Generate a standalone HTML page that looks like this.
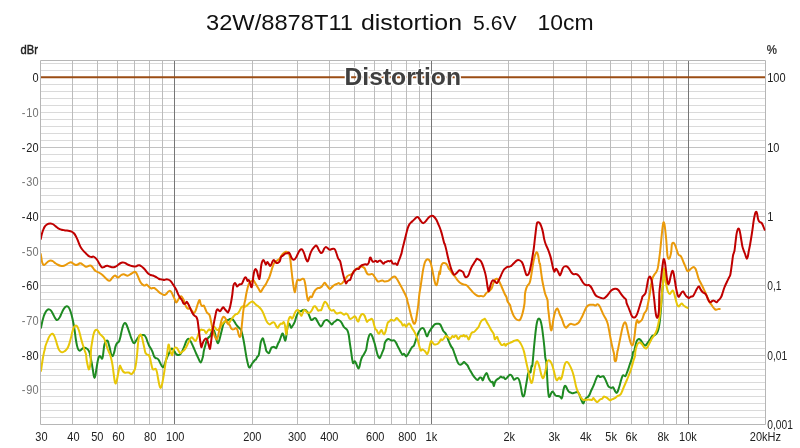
<!DOCTYPE html>
<html><head><meta charset="utf-8"><title>chart</title>
<style>
html,body{margin:0;padding:0;background:#fff;}
body{width:800px;height:448px;position:relative;overflow:hidden;font-family:"Liberation Sans",sans-serif;}
</style></head><body>
<svg width="800" height="448" viewBox="0 0 800 448" style="position:absolute;left:0;top:0" font-family="Liberation Sans, sans-serif">
<rect x="0" y="0" width="800" height="448" fill="#fff"/>
<path d="M40.5 63.5H765.5M40.5 70.5H765.5M40.5 84.5H765.5M40.5 91.5H765.5M40.5 98.5H765.5M40.5 105.5H765.5M40.5 112.5H765.5M40.5 119.5H765.5M40.5 126.5H765.5M40.5 133.5H765.5M40.5 140.5H765.5M40.5 154.5H765.5M40.5 161.5H765.5M40.5 167.5H765.5M40.5 174.5H765.5M40.5 181.5H765.5M40.5 188.5H765.5M40.5 195.5H765.5M40.5 202.5H765.5M40.5 209.5H765.5M40.5 223.5H765.5M40.5 230.5H765.5M40.5 237.5H765.5M40.5 244.5H765.5M40.5 251.5H765.5M40.5 258.5H765.5M40.5 265.5H765.5M40.5 271.5H765.5M40.5 278.5H765.5M40.5 292.5H765.5M40.5 299.5H765.5M40.5 306.5H765.5M40.5 313.5H765.5M40.5 320.5H765.5M40.5 327.5H765.5M40.5 334.5H765.5M40.5 341.5H765.5M40.5 348.5H765.5M40.5 362.5H765.5M40.5 369.5H765.5M40.5 375.5H765.5M40.5 382.5H765.5M40.5 389.5H765.5M40.5 396.5H765.5M40.5 403.5H765.5M40.5 410.5H765.5M40.5 417.5H765.5" stroke="#dadada" stroke-width="1" fill="none"/>
<path d="M40.5 77.5H765.5M40.5 147.5H765.5M40.5 216.5H765.5M40.5 285.5H765.5M40.5 355.5H765.5" stroke="#c2c2c2" stroke-width="1" fill="none"/>
<path d="M72.5 60.5V424.5M97.5 60.5V424.5M117.5 60.5V424.5M134.5 60.5V424.5M149.5 60.5V424.5M162.5 60.5V424.5M252.5 60.5V424.5M297.5 60.5V424.5M329.5 60.5V424.5M354.5 60.5V424.5M374.5 60.5V424.5M391.5 60.5V424.5M406.5 60.5V424.5M419.5 60.5V424.5M508.5 60.5V424.5M553.5 60.5V424.5M586.5 60.5V424.5M610.5 60.5V424.5M631.5 60.5V424.5M648.5 60.5V424.5M663.5 60.5V424.5M676.5 60.5V424.5" stroke="#bcbcbc" stroke-width="1" fill="none"/>
<path d="M174.5 60.5V424.5M431.5 60.5V424.5M688.5 60.5V424.5" stroke="#767676" stroke-width="1" fill="none"/>
<path d="M40.5 60.5H765.5V424.5H40.5Z" stroke="#b6b6b6" stroke-width="1" fill="none"/>
<path d="M41 77.25H765" stroke="#9b4d14" stroke-width="2.2" fill="none"/>
<clipPath id="c"><rect x="41" y="61" width="724.5" height="363"/></clipPath>
<g clip-path="url(#c)" fill="none" stroke-width="2" stroke-linejoin="round" stroke-linecap="round">
<path d="M40.50 327.50C40.58 327.50 40.71 328.44 41.00 327.50C41.29 326.56 41.79 323.75 42.25 321.88C42.71 320.00 43.23 317.81 43.75 316.25C44.27 314.69 44.79 313.54 45.38 312.50C45.96 311.46 46.62 310.52 47.25 310.00C47.88 309.48 48.50 309.27 49.12 309.38C49.75 309.48 50.38 309.90 51.00 310.62C51.62 311.35 52.25 312.60 52.88 313.75C53.50 314.90 54.12 316.46 54.75 317.50C55.38 318.54 56.04 319.69 56.62 320.00C57.21 320.31 57.69 319.90 58.25 319.38C58.81 318.85 59.44 317.92 60.00 316.88C60.56 315.83 61.08 314.31 61.62 313.12C62.17 311.94 62.69 310.73 63.25 309.75C63.81 308.77 64.44 307.83 65.00 307.25C65.56 306.67 66.08 306.31 66.62 306.25C67.17 306.19 67.73 306.35 68.25 306.88C68.77 307.40 69.25 308.23 69.75 309.38C70.25 310.52 70.79 312.19 71.25 313.75C71.71 315.31 72.08 316.88 72.50 318.75C72.92 320.62 73.38 322.92 73.75 325.00C74.12 327.08 74.42 328.96 74.75 331.25C75.08 333.54 75.38 336.35 75.75 338.75C76.12 341.15 76.58 343.85 77.00 345.62C77.42 347.40 77.83 348.54 78.25 349.38C78.67 350.21 79.04 350.52 79.50 350.62C79.96 350.73 80.44 350.42 81.00 350.00C81.56 349.58 82.25 348.50 82.88 348.12C83.50 347.75 84.12 347.69 84.75 347.75C85.38 347.81 86.04 348.12 86.62 348.50C87.21 348.88 87.73 349.23 88.25 350.00C88.77 350.77 89.40 352.08 89.75 353.12C90.10 354.17 90.06 354.69 90.38 356.25C90.69 357.81 91.21 360.21 91.62 362.50C92.04 364.79 92.52 367.81 92.88 370.00C93.23 372.19 93.48 374.27 93.75 375.62C94.02 376.98 94.23 378.12 94.50 378.12C94.77 378.12 95.08 376.98 95.38 375.62C95.67 374.27 95.94 371.98 96.25 370.00C96.56 368.02 96.92 365.62 97.25 363.75C97.58 361.88 97.88 360.04 98.25 358.75C98.62 357.46 99.08 356.31 99.50 356.00C99.92 355.69 100.33 356.42 100.75 356.88C101.17 357.33 101.65 358.85 102.00 358.75C102.35 358.65 102.52 358.33 102.88 356.25C103.23 354.17 103.71 348.65 104.12 346.25C104.54 343.85 104.96 342.81 105.38 341.88C105.79 340.94 106.21 340.73 106.62 340.62C107.04 340.52 107.46 340.42 107.88 341.25C108.29 342.08 108.71 344.06 109.12 345.62C109.54 347.19 110.06 349.27 110.38 350.62C110.69 351.98 110.65 352.81 111.00 353.75C111.35 354.69 112.04 356.25 112.50 356.25C112.96 356.25 113.38 354.79 113.75 353.75C114.12 352.71 114.48 351.15 114.75 350.00C115.02 348.85 115.06 347.92 115.38 346.88C115.69 345.83 116.21 344.48 116.62 343.75C117.04 343.02 117.46 342.92 117.88 342.50C118.29 342.08 118.71 342.19 119.12 341.25C119.54 340.31 119.96 338.54 120.38 336.88C120.79 335.21 121.21 333.02 121.62 331.25C122.04 329.48 122.46 327.54 122.88 326.25C123.29 324.96 123.71 324.02 124.12 323.50C124.54 322.98 124.96 322.88 125.38 323.12C125.79 323.38 126.15 323.96 126.62 325.00C127.10 326.04 127.73 327.92 128.25 329.38C128.77 330.83 129.25 332.29 129.75 333.75C130.25 335.21 130.73 336.77 131.25 338.12C131.77 339.48 132.40 341.04 132.88 341.88C133.35 342.71 133.77 343.02 134.12 343.12C134.48 343.23 134.60 343.02 135.00 342.50C135.40 341.98 135.98 340.83 136.50 340.00C137.02 339.17 137.58 338.23 138.12 337.50C138.67 336.77 139.23 336.04 139.75 335.62C140.27 335.21 140.69 335.10 141.25 335.00C141.81 334.90 142.54 334.90 143.12 335.00C143.71 335.10 144.23 335.10 144.75 335.62C145.27 336.15 145.75 336.98 146.25 338.12C146.75 339.27 147.23 341.15 147.75 342.50C148.27 343.85 148.83 345.21 149.38 346.25C149.92 347.29 150.48 347.81 151.00 348.75C151.52 349.69 152.00 350.62 152.50 351.88C153.00 353.12 153.48 355.21 154.00 356.25C154.52 357.29 155.08 357.75 155.62 358.12C156.17 358.50 156.73 358.19 157.25 358.50C157.77 358.81 158.25 359.23 158.75 360.00C159.25 360.77 159.73 362.08 160.25 363.12C160.77 364.17 161.40 365.56 161.88 366.25C162.35 366.94 162.71 367.46 163.12 367.25C163.54 367.04 163.96 366.00 164.38 365.00C164.79 364.00 165.10 362.71 165.62 361.25C166.15 359.79 166.88 357.71 167.50 356.25C168.12 354.79 168.75 353.75 169.38 352.50C170.00 351.25 170.62 349.27 171.25 348.75C171.88 348.23 172.54 348.85 173.12 349.38C173.71 349.90 174.19 351.04 174.75 351.88C175.31 352.71 175.83 353.85 176.50 354.38C177.17 354.90 178.06 355.10 178.75 355.00C179.44 354.90 180.00 354.48 180.62 353.75C181.25 353.02 181.88 351.88 182.50 350.62C183.12 349.38 183.75 347.81 184.38 346.25C185.00 344.69 185.69 342.46 186.25 341.25C186.81 340.04 187.23 339.31 187.75 339.00C188.27 338.69 188.83 338.90 189.38 339.38C189.92 339.85 190.44 340.83 191.00 341.88C191.56 342.92 192.19 344.38 192.75 345.62C193.31 346.88 193.79 348.02 194.38 349.38C194.96 350.73 195.65 352.40 196.25 353.75C196.85 355.10 197.25 356.04 198.00 357.50C198.75 358.96 199.92 362.71 200.75 362.50C201.58 362.29 202.50 358.12 203.00 356.25C203.50 354.38 203.38 353.02 203.75 351.25C204.12 349.48 204.73 347.50 205.25 345.62C205.77 343.75 206.33 341.35 206.88 340.00C207.42 338.65 207.98 338.12 208.50 337.50C209.02 336.88 209.50 337.08 210.00 336.25C210.50 335.42 210.98 333.54 211.50 332.50C212.02 331.46 212.65 330.21 213.12 330.00C213.60 329.79 213.96 330.21 214.38 331.25C214.79 332.29 215.21 334.58 215.62 336.25C216.04 337.92 216.46 340.10 216.88 341.25C217.29 342.40 217.71 343.33 218.12 343.12C218.54 342.92 218.96 341.35 219.38 340.00C219.79 338.65 220.21 336.67 220.62 335.00C221.04 333.33 221.46 331.67 221.88 330.00C222.29 328.33 222.65 326.35 223.12 325.00C223.60 323.65 224.23 322.60 224.75 321.88C225.27 321.15 225.69 320.94 226.25 320.62C226.81 320.31 227.50 320.27 228.12 320.00C228.75 319.73 229.38 319.21 230.00 319.00C230.62 318.79 231.25 318.48 231.88 318.75C232.50 319.02 233.12 319.79 233.75 320.62C234.38 321.46 235.00 322.81 235.62 323.75C236.25 324.69 236.88 325.52 237.50 326.25C238.12 326.98 238.75 327.40 239.38 328.12C240.00 328.85 240.69 329.27 241.25 330.62C241.81 331.98 242.29 334.27 242.75 336.25C243.21 338.23 243.58 340.21 244.00 342.50C244.42 344.79 244.75 347.08 245.25 350.00C245.75 352.92 246.33 357.08 247.00 360.00C247.67 362.92 248.42 366.88 249.25 367.50C250.08 368.12 251.04 365.00 252.00 363.75C252.96 362.50 254.33 360.73 255.00 360.00C255.67 359.27 255.62 359.90 256.00 359.38C256.38 358.85 256.79 357.60 257.25 356.88C257.71 356.15 258.29 356.56 258.75 355.00C259.21 353.44 259.67 349.58 260.00 347.50C260.33 345.42 260.38 343.96 260.75 342.50C261.12 341.04 261.83 339.33 262.25 338.75C262.67 338.17 262.88 338.17 263.25 339.00C263.62 339.83 264.21 342.75 264.50 343.75C264.79 344.75 264.71 343.85 265.00 345.00C265.29 346.15 265.77 349.38 266.25 350.62C266.73 351.88 267.40 352.08 267.88 352.50C268.35 352.92 268.71 353.54 269.12 353.12C269.54 352.71 269.96 350.94 270.38 350.00C270.79 349.06 271.15 348.02 271.62 347.50C272.10 346.98 272.73 346.92 273.25 346.88C273.77 346.83 274.25 347.04 274.75 347.25C275.25 347.46 275.79 348.50 276.25 348.12C276.71 347.75 277.08 345.98 277.50 345.00C277.92 344.02 278.48 342.77 278.75 342.25C279.02 341.73 278.79 342.67 279.12 341.88C279.46 341.08 280.23 338.85 280.75 337.50C281.27 336.15 281.83 334.27 282.25 333.75C282.67 333.23 282.92 333.65 283.25 334.38C283.58 335.10 283.90 337.08 284.25 338.12C284.60 339.17 285.04 340.94 285.38 340.62C285.71 340.31 285.94 338.23 286.25 336.25C286.56 334.27 286.88 330.83 287.25 328.75C287.62 326.67 288.08 324.48 288.50 323.75C288.92 323.02 289.33 323.71 289.75 324.38C290.17 325.04 290.58 327.44 291.00 327.75C291.42 328.06 291.83 326.81 292.25 326.25C292.67 325.69 293.04 325.21 293.50 324.38C293.96 323.54 294.54 322.50 295.00 321.25C295.46 320.00 295.77 318.23 296.25 316.88C296.73 315.52 297.33 314.10 297.88 313.12C298.42 312.15 298.98 311.31 299.50 311.00C300.02 310.69 300.50 311.38 301.00 311.25C301.50 311.12 301.98 310.50 302.50 310.25C303.02 310.00 303.58 309.79 304.12 309.75C304.67 309.71 305.23 309.65 305.75 310.00C306.27 310.35 306.75 311.15 307.25 311.88C307.75 312.60 308.29 313.44 308.75 314.38C309.21 315.31 309.58 316.56 310.00 317.50C310.42 318.44 310.77 319.69 311.25 320.00C311.73 320.31 312.33 319.69 312.88 319.38C313.42 319.06 313.98 318.23 314.50 318.12C315.02 318.02 315.50 318.19 316.00 318.75C316.50 319.31 316.98 320.56 317.50 321.50C318.02 322.44 318.58 323.54 319.12 324.38C319.67 325.21 320.23 326.40 320.75 326.50C321.27 326.60 321.75 325.77 322.25 325.00C322.75 324.23 323.23 322.67 323.75 321.88C324.27 321.08 324.83 320.56 325.38 320.25C325.92 319.94 326.44 319.83 327.00 320.00C327.56 320.17 328.19 320.73 328.75 321.25C329.31 321.77 329.83 322.60 330.38 323.12C330.92 323.65 331.48 324.48 332.00 324.38C332.52 324.27 332.94 323.02 333.50 322.50C334.06 321.98 334.75 321.71 335.38 321.25C336.00 320.79 336.62 319.92 337.25 319.75C337.88 319.58 338.50 319.90 339.12 320.25C339.75 320.60 340.44 321.19 341.00 321.88C341.56 322.56 341.98 323.48 342.50 324.38C343.02 325.27 343.54 326.52 344.12 327.25C344.71 327.98 345.44 328.19 346.00 328.75C346.56 329.31 347.04 329.58 347.50 330.62C347.96 331.67 348.38 333.02 348.75 335.00C349.12 336.98 349.46 340.42 349.75 342.50C350.04 344.58 350.25 345.83 350.50 347.50C350.75 349.17 350.98 350.62 351.25 352.50C351.52 354.38 351.83 356.98 352.12 358.75C352.42 360.52 352.69 362.54 353.00 363.12C353.31 363.71 353.67 362.56 354.00 362.25C354.33 361.94 354.62 361.00 355.00 361.25C355.38 361.50 355.83 362.81 356.25 363.75C356.67 364.69 357.08 366.08 357.50 366.88C357.92 367.67 358.38 368.71 358.75 368.50C359.12 368.29 359.44 366.83 359.75 365.62C360.06 364.42 360.27 362.60 360.62 361.25C360.98 359.90 361.40 358.54 361.88 357.50C362.35 356.46 362.98 355.88 363.50 355.00C364.02 354.12 364.54 353.19 365.00 352.25C365.46 351.31 365.83 351.10 366.25 349.38C366.67 347.65 367.02 344.17 367.50 341.88C367.98 339.58 368.58 336.94 369.12 335.62C369.67 334.31 370.23 333.90 370.75 334.00C371.27 334.10 371.75 335.15 372.25 336.25C372.75 337.35 373.33 339.38 373.75 340.62C374.17 341.88 374.38 342.40 374.75 343.75C375.12 345.10 375.58 347.08 376.00 348.75C376.42 350.42 376.83 352.40 377.25 353.75C377.67 355.10 378.08 356.15 378.50 356.88C378.92 357.60 379.33 358.33 379.75 358.12C380.17 357.92 380.54 356.67 381.00 355.62C381.46 354.58 382.00 353.12 382.50 351.88C383.00 350.62 383.62 349.58 384.00 348.12C384.38 346.67 384.31 344.48 384.75 343.12C385.19 341.77 386.00 340.69 386.62 340.00C387.25 339.31 387.88 339.00 388.50 339.00C389.12 339.00 389.75 339.73 390.38 340.00C391.00 340.27 391.62 340.58 392.25 340.62C392.88 340.67 393.46 339.83 394.12 340.25C394.79 340.67 395.65 342.12 396.25 343.12C396.85 344.12 397.23 345.21 397.75 346.25C398.27 347.29 398.83 348.33 399.38 349.38C399.92 350.42 400.48 351.60 401.00 352.50C401.52 353.40 402.04 354.54 402.50 354.75C402.96 354.96 403.33 353.71 403.75 353.75C404.17 353.79 404.58 354.54 405.00 355.00C405.42 355.46 405.83 356.50 406.25 356.50C406.67 356.50 407.04 355.67 407.50 355.00C407.96 354.33 408.48 353.44 409.00 352.50C409.52 351.56 410.08 350.31 410.62 349.38C411.17 348.44 411.73 347.44 412.25 346.88C412.77 346.31 413.29 346.73 413.75 346.00C414.21 345.27 414.58 343.71 415.00 342.50C415.42 341.29 415.83 340.00 416.25 338.75C416.67 337.50 417.08 336.15 417.50 335.00C417.92 333.85 418.27 332.81 418.75 331.88C419.23 330.94 419.83 330.00 420.38 329.38C420.92 328.75 421.48 328.27 422.00 328.12C422.52 327.98 423.04 328.08 423.50 328.50C423.96 328.92 424.33 329.65 424.75 330.62C425.17 331.60 425.58 333.44 426.00 334.38C426.42 335.31 426.83 336.46 427.25 336.25C427.67 336.04 428.04 334.06 428.50 333.12C428.96 332.19 429.48 331.46 430.00 330.62C430.52 329.79 431.08 328.90 431.62 328.12C432.17 327.35 432.73 326.62 433.25 326.00C433.77 325.38 434.19 324.75 434.75 324.38C435.31 324.00 436.00 323.85 436.62 323.75C437.25 323.65 437.88 323.58 438.50 323.75C439.12 323.92 439.79 324.02 440.38 324.75C440.96 325.48 441.48 327.04 442.00 328.12C442.52 329.21 442.94 330.42 443.50 331.25C444.06 332.08 444.79 332.29 445.38 333.12C445.96 333.96 446.48 335.00 447.00 336.25C447.52 337.50 448.00 339.31 448.50 340.62C449.00 341.94 449.54 343.12 450.00 344.12C450.46 345.12 450.79 345.85 451.25 346.62C451.71 347.40 452.29 347.81 452.75 348.75C453.21 349.69 453.52 350.94 454.00 352.25C454.48 353.56 455.15 355.27 455.62 356.62C456.10 357.98 456.40 359.19 456.88 360.38C457.35 361.56 457.94 363.02 458.50 363.75C459.06 364.48 459.62 364.75 460.25 364.75C460.88 364.75 461.62 364.21 462.25 363.75C462.88 363.29 463.44 362.04 464.00 362.00C464.56 361.96 465.04 362.94 465.62 363.50C466.21 364.06 466.88 364.44 467.50 365.38C468.12 366.31 468.75 367.98 469.38 369.12C470.00 370.27 470.62 371.21 471.25 372.25C471.88 373.29 472.50 374.44 473.12 375.38C473.75 376.31 474.44 377.19 475.00 377.88C475.56 378.56 476.04 379.15 476.50 379.50C476.96 379.85 477.33 380.17 477.75 380.00C478.17 379.83 478.58 378.92 479.00 378.50C479.42 378.08 479.83 377.60 480.25 377.50C480.67 377.40 481.08 377.40 481.50 377.88C481.92 378.35 482.33 380.48 482.75 380.38C483.17 380.27 483.58 378.19 484.00 377.25C484.42 376.31 484.83 375.48 485.25 374.75C485.67 374.02 486.12 372.88 486.50 372.88C486.88 372.88 487.12 373.81 487.50 374.75C487.88 375.69 488.29 377.46 488.75 378.50C489.21 379.54 489.79 380.38 490.25 381.00C490.71 381.62 491.08 382.08 491.50 382.25C491.92 382.42 492.38 381.38 492.75 382.00C493.12 382.62 493.42 385.85 493.75 386.00C494.08 386.15 494.38 383.81 494.75 382.88C495.12 381.94 495.54 381.00 496.00 380.38C496.46 379.75 497.00 379.48 497.50 379.12C498.00 378.77 498.48 378.67 499.00 378.25C499.52 377.83 500.08 376.75 500.62 376.62C501.17 376.50 501.73 377.40 502.25 377.50C502.77 377.60 503.25 376.98 503.75 377.25C504.25 377.52 504.73 379.02 505.25 379.12C505.77 379.23 506.33 378.40 506.88 377.88C507.42 377.35 507.98 376.52 508.50 376.00C509.02 375.48 509.50 374.85 510.00 374.75C510.50 374.65 511.04 374.92 511.50 375.38C511.96 375.83 512.33 376.77 512.75 377.50C513.17 378.23 513.52 379.54 514.00 379.75C514.48 379.96 515.08 379.06 515.62 378.75C516.17 378.44 516.73 377.81 517.25 377.88C517.77 377.94 518.29 378.29 518.75 379.12C519.21 379.96 519.58 381.21 520.00 382.88C520.42 384.54 520.88 387.15 521.25 389.12C521.62 391.10 521.92 393.50 522.25 394.75C522.58 396.00 522.90 396.62 523.25 396.62C523.60 396.62 523.98 396.21 524.38 394.75C524.77 393.29 525.21 390.27 525.62 387.88C526.04 385.48 526.46 382.77 526.88 380.38C527.29 377.98 527.71 374.96 528.12 373.50C528.54 372.04 528.96 371.83 529.38 371.62C529.79 371.42 530.27 373.19 530.62 372.25C530.98 371.31 531.23 367.04 531.50 366.00C531.77 364.96 531.98 367.46 532.25 366.00C532.52 364.54 532.83 360.38 533.12 357.25C533.42 354.12 533.69 350.58 534.00 347.25C534.31 343.92 534.67 340.38 535.00 337.25C535.33 334.12 535.67 331.00 536.00 328.50C536.33 326.00 536.65 323.81 537.00 322.25C537.35 320.69 537.73 319.71 538.12 319.12C538.52 318.54 538.96 318.44 539.38 318.75C539.79 319.06 540.21 319.69 540.62 321.00C541.04 322.31 541.46 324.12 541.88 326.62C542.29 329.12 542.71 332.56 543.12 336.00C543.54 339.44 544.02 343.71 544.38 347.25C544.73 350.79 544.96 354.96 545.25 357.25C545.54 359.54 545.90 359.54 546.12 361.00C546.35 362.46 546.44 363.08 546.62 366.00C546.81 368.92 547.04 374.75 547.25 378.50C547.46 382.25 547.62 385.58 547.88 388.50C548.12 391.42 548.44 394.65 548.75 396.00C549.06 397.35 549.38 397.04 549.75 396.62C550.12 396.21 550.58 394.33 551.00 393.50C551.42 392.67 551.79 391.73 552.25 391.62C552.71 391.52 553.23 392.25 553.75 392.88C554.27 393.50 554.79 394.85 555.38 395.38C555.96 395.90 556.62 395.85 557.25 396.00C557.88 396.15 558.54 396.04 559.12 396.25C559.71 396.46 560.33 396.88 560.75 397.25C561.17 397.62 561.33 398.71 561.62 398.50C561.92 398.29 562.19 397.46 562.50 396.00C562.81 394.54 563.12 391.42 563.50 389.75C563.88 388.08 564.33 386.52 564.75 386.00C565.17 385.48 565.58 386.10 566.00 386.62C566.42 387.15 566.79 388.29 567.25 389.12C567.71 389.96 568.23 391.06 568.75 391.62C569.27 392.19 569.79 392.23 570.38 392.50C570.96 392.77 571.62 393.19 572.25 393.25C572.88 393.31 573.50 393.04 574.12 392.88C574.75 392.71 575.38 392.35 576.00 392.25C576.62 392.15 577.29 391.83 577.88 392.25C578.46 392.67 578.98 393.60 579.50 394.75C580.02 395.90 580.50 397.83 581.00 399.12C581.50 400.42 582.08 401.81 582.50 402.50C582.92 403.19 583.12 403.60 583.50 403.25C583.88 402.90 584.29 401.27 584.75 400.38C585.21 399.48 585.73 398.44 586.25 397.88C586.77 397.31 587.33 397.52 587.88 397.00C588.42 396.48 588.98 395.75 589.50 394.75C590.02 393.75 590.50 392.15 591.00 391.00C591.50 389.85 591.98 389.02 592.50 387.88C593.02 386.73 593.58 385.48 594.12 384.12C594.67 382.77 595.23 381.06 595.75 379.75C596.27 378.44 596.79 376.92 597.25 376.25C597.71 375.58 598.04 375.62 598.50 375.75C598.96 375.88 599.48 376.85 600.00 377.00C600.52 377.15 601.08 376.75 601.62 376.62C602.17 376.50 602.73 375.98 603.25 376.25C603.77 376.52 604.25 377.35 604.75 378.25C605.25 379.15 605.73 380.44 606.25 381.62C606.77 382.81 607.33 384.44 607.88 385.38C608.42 386.31 608.94 386.83 609.50 387.25C610.06 387.67 610.69 387.88 611.25 387.88C611.81 387.88 612.40 387.04 612.88 387.25C613.35 387.46 613.71 388.40 614.12 389.12C614.54 389.85 614.96 391.00 615.38 391.62C615.79 392.25 616.21 392.98 616.62 392.88C617.04 392.77 617.40 392.15 617.88 391.00C618.35 389.85 618.98 387.77 619.50 386.00C620.02 384.23 620.50 382.04 621.00 380.38C621.50 378.71 622.04 376.83 622.50 376.00C622.96 375.17 623.27 375.33 623.75 375.38C624.23 375.42 624.90 376.56 625.38 376.25C625.85 375.94 626.15 374.69 626.62 373.50C627.10 372.31 627.73 370.62 628.25 369.12C628.77 367.62 629.25 365.96 629.75 364.50C630.25 363.04 630.79 361.79 631.25 360.38C631.71 358.96 632.21 357.35 632.50 356.00C632.79 354.65 632.73 353.04 633.00 352.25C633.27 351.46 633.73 352.35 634.12 351.25C634.52 350.15 634.96 347.29 635.38 345.62C635.79 343.96 636.21 342.29 636.62 341.25C637.04 340.21 637.46 339.75 637.88 339.38C638.29 339.00 638.65 338.85 639.12 339.00C639.60 339.15 640.23 339.67 640.75 340.25C641.27 340.83 641.75 341.81 642.25 342.50C642.75 343.19 643.21 343.88 643.75 344.38C644.29 344.88 644.79 345.85 645.50 345.50C646.21 345.15 647.15 343.42 648.00 342.25C648.85 341.08 649.92 339.54 650.62 338.50C651.33 337.46 651.67 336.52 652.25 336.00C652.83 335.48 653.50 335.69 654.12 335.38C654.75 335.06 655.42 334.75 656.00 334.12C656.58 333.50 657.15 332.77 657.62 331.62C658.10 330.48 658.50 329.06 658.88 327.25C659.25 325.44 659.58 323.15 659.88 320.75C660.17 318.35 660.38 315.75 660.62 312.88C660.88 310.00 661.15 306.73 661.38 303.50C661.60 300.27 661.77 296.42 662.00 293.50C662.23 290.58 662.54 288.00 662.75 286.00C662.96 284.00 663.04 284.21 663.25 281.50C663.46 278.79 663.88 271.71 664.00 269.75" stroke="#1e8a22"/>
<path d="M40.50 370.00C40.58 370.10 40.75 371.67 41.00 370.62C41.25 369.58 41.67 365.94 42.00 363.75C42.33 361.56 42.65 359.48 43.00 357.50C43.35 355.52 43.79 353.33 44.12 351.88C44.46 350.42 44.79 349.69 45.00 348.75C45.21 347.81 45.00 347.50 45.38 346.25C45.75 345.00 46.62 342.81 47.25 341.25C47.88 339.69 48.50 338.02 49.12 336.88C49.75 335.73 50.44 334.90 51.00 334.38C51.56 333.85 51.98 333.54 52.50 333.75C53.02 333.96 53.58 334.58 54.12 335.62C54.67 336.67 55.23 338.44 55.75 340.00C56.27 341.56 56.75 343.44 57.25 345.00C57.75 346.56 58.23 348.29 58.75 349.38C59.27 350.46 59.79 351.02 60.38 351.50C60.96 351.98 61.62 352.25 62.25 352.25C62.88 352.25 63.50 351.88 64.12 351.50C64.75 351.12 65.38 350.67 66.00 350.00C66.62 349.33 67.29 348.65 67.88 347.50C68.46 346.35 68.98 344.79 69.50 343.12C70.02 341.46 70.50 339.48 71.00 337.50C71.50 335.52 72.04 332.92 72.50 331.25C72.96 329.58 73.33 328.38 73.75 327.50C74.17 326.62 74.58 326.31 75.00 326.00C75.42 325.69 75.83 325.48 76.25 325.62C76.67 325.77 77.08 326.15 77.50 326.88C77.92 327.60 78.33 328.75 78.75 330.00C79.17 331.25 79.58 332.81 80.00 334.38C80.42 335.94 80.77 337.60 81.25 339.38C81.73 341.15 82.33 343.23 82.88 345.00C83.42 346.77 83.98 348.44 84.50 350.00C85.02 351.56 85.65 352.71 86.00 354.38C86.35 356.04 86.31 358.02 86.62 360.00C86.94 361.98 87.52 364.69 87.88 366.25C88.23 367.81 88.44 369.17 88.75 369.38C89.06 369.58 89.44 368.75 89.75 367.50C90.06 366.25 90.42 364.79 90.62 361.88C90.83 358.96 90.73 353.44 91.00 350.00C91.27 346.56 91.83 343.85 92.25 341.25C92.67 338.65 93.04 336.15 93.50 334.38C93.96 332.60 94.48 331.40 95.00 330.62C95.52 329.85 96.08 329.65 96.62 329.75C97.17 329.85 97.73 330.58 98.25 331.25C98.77 331.92 99.19 333.02 99.75 333.75C100.31 334.48 101.00 335.00 101.62 335.62C102.25 336.25 102.98 336.77 103.50 337.50C104.02 338.23 104.33 338.96 104.75 340.00C105.17 341.04 105.54 342.29 106.00 343.75C106.46 345.21 106.98 347.29 107.50 348.75C108.02 350.21 108.75 351.67 109.12 352.50C109.50 353.33 109.40 352.71 109.75 353.75C110.10 354.79 110.79 356.88 111.25 358.75C111.71 360.62 112.12 362.71 112.50 365.00C112.88 367.29 113.17 370.00 113.50 372.50C113.83 375.00 114.19 378.17 114.50 380.00C114.81 381.83 115.02 383.29 115.38 383.50C115.73 383.71 116.21 382.67 116.62 381.25C117.04 379.83 117.46 377.08 117.88 375.00C118.29 372.92 118.77 370.31 119.12 368.75C119.48 367.19 119.60 365.62 120.00 365.62C120.40 365.62 120.98 367.77 121.50 368.75C122.02 369.73 122.54 370.83 123.12 371.50C123.71 372.17 124.38 372.58 125.00 372.75C125.62 372.92 126.25 372.54 126.88 372.50C127.50 372.46 128.12 372.29 128.75 372.50C129.38 372.71 130.10 373.50 130.62 373.75C131.15 374.00 131.40 374.31 131.88 374.00C132.35 373.69 132.98 372.75 133.50 371.88C134.02 371.00 134.54 370.42 135.00 368.75C135.46 367.08 135.88 364.58 136.25 361.88C136.62 359.17 136.94 355.73 137.25 352.50C137.56 349.27 137.83 345.10 138.12 342.50C138.42 339.90 138.69 338.17 139.00 336.88C139.31 335.58 139.67 335.06 140.00 334.75C140.33 334.44 140.67 334.54 141.00 335.00C141.33 335.46 141.65 336.25 142.00 337.50C142.35 338.75 142.73 340.73 143.12 342.50C143.52 344.27 144.06 346.67 144.38 348.12C144.69 349.58 144.79 350.42 145.00 351.25C145.21 352.08 145.25 352.54 145.62 353.12C146.00 353.71 146.73 354.44 147.25 354.75C147.77 355.06 148.29 354.44 148.75 355.00C149.21 355.56 149.58 356.67 150.00 358.12C150.42 359.58 150.83 361.98 151.25 363.75C151.67 365.52 152.04 367.81 152.50 368.75C152.96 369.69 153.48 369.38 154.00 369.38C154.52 369.38 155.15 368.33 155.62 368.75C156.10 369.17 156.46 370.21 156.88 371.88C157.29 373.54 157.71 376.56 158.12 378.75C158.54 380.94 158.98 383.44 159.38 385.00C159.77 386.56 160.08 388.12 160.50 388.12C160.92 388.12 161.44 386.56 161.88 385.00C162.31 383.44 162.71 381.04 163.12 378.75C163.54 376.46 163.96 373.96 164.38 371.25C164.79 368.54 165.21 365.10 165.62 362.50C166.04 359.90 166.40 358.58 166.88 355.62C167.35 352.67 168.02 345.90 168.50 344.75C168.98 343.60 169.33 347.35 169.75 348.75C170.17 350.15 170.58 352.08 171.00 353.12C171.42 354.17 171.83 355.52 172.25 355.00C172.67 354.48 173.04 351.25 173.50 350.00C173.96 348.75 174.44 347.81 175.00 347.50C175.56 347.19 176.29 347.60 176.88 348.12C177.46 348.65 177.98 349.79 178.50 350.62C179.02 351.46 179.44 352.92 180.00 353.12C180.56 353.33 181.25 352.29 181.88 351.88C182.50 351.46 183.12 351.25 183.75 350.62C184.38 350.00 185.04 349.06 185.62 348.12C186.21 347.19 186.73 346.04 187.25 345.00C187.77 343.96 188.25 342.92 188.75 341.88C189.25 340.83 189.73 339.52 190.25 338.75C190.77 337.98 191.29 337.15 191.88 337.25C192.46 337.35 193.12 338.75 193.75 339.38C194.38 340.00 195.04 341.31 195.62 341.00C196.21 340.69 196.73 338.81 197.25 337.50C197.77 336.19 198.19 334.42 198.75 333.12C199.31 331.83 200.00 330.27 200.62 329.75C201.25 329.23 201.88 329.90 202.50 330.00C203.12 330.10 203.79 329.85 204.38 330.38C204.96 330.90 205.48 332.98 206.00 333.12C206.52 333.27 207.00 331.88 207.50 331.25C208.00 330.62 208.48 329.48 209.00 329.38C209.52 329.27 210.04 330.77 210.62 330.62C211.21 330.48 211.88 329.12 212.50 328.50C213.12 327.88 213.75 326.73 214.38 326.88C215.00 327.02 215.69 328.85 216.25 329.38C216.81 329.90 217.17 330.21 217.75 330.00C218.33 329.79 219.12 328.96 219.75 328.12C220.38 327.29 220.88 325.94 221.50 325.00C222.12 324.06 222.88 323.12 223.50 322.50C224.12 321.88 224.62 321.35 225.25 321.25C225.88 321.15 226.67 321.56 227.25 321.88C227.83 322.19 228.25 323.23 228.75 323.12C229.25 323.02 229.73 321.98 230.25 321.25C230.77 320.52 231.29 319.58 231.88 318.75C232.46 317.92 233.12 316.98 233.75 316.25C234.38 315.52 235.00 314.79 235.62 314.38C236.25 313.96 236.88 314.27 237.50 313.75C238.12 313.23 238.75 312.29 239.38 311.25C240.00 310.21 240.62 308.33 241.25 307.50C241.88 306.67 242.50 306.35 243.12 306.25C243.75 306.15 244.38 306.98 245.00 306.88C245.62 306.77 246.25 306.15 246.88 305.62C247.50 305.10 248.12 304.31 248.75 303.75C249.38 303.19 250.00 302.62 250.62 302.25C251.25 301.88 251.88 301.35 252.50 301.50C253.12 301.65 253.75 302.54 254.38 303.12C255.00 303.71 255.62 304.48 256.25 305.00C256.88 305.52 257.54 305.79 258.12 306.25C258.71 306.71 259.17 307.12 259.75 307.75C260.33 308.38 261.04 309.10 261.62 310.00C262.21 310.90 262.73 311.98 263.25 313.12C263.77 314.27 264.25 315.62 264.75 316.88C265.25 318.12 265.73 319.58 266.25 320.62C266.77 321.67 267.33 322.50 267.88 323.12C268.42 323.75 268.98 324.31 269.50 324.38C270.02 324.44 270.50 323.81 271.00 323.50C271.50 323.19 271.98 322.67 272.50 322.50C273.02 322.33 273.65 322.19 274.12 322.50C274.60 322.81 274.96 323.65 275.38 324.38C275.79 325.10 276.21 326.31 276.62 326.88C277.04 327.44 277.46 327.96 277.88 327.75C278.29 327.54 278.65 326.33 279.12 325.62C279.60 324.92 280.23 323.81 280.75 323.50C281.27 323.19 281.75 324.02 282.25 323.75C282.75 323.48 283.33 321.77 283.75 321.88C284.17 321.98 284.42 322.81 284.75 324.38C285.08 325.94 285.48 329.58 285.75 331.25C286.02 332.92 286.12 334.79 286.38 334.38C286.62 333.96 286.94 330.94 287.25 328.75C287.56 326.56 287.88 323.12 288.25 321.25C288.62 319.38 289.08 318.23 289.50 317.50C289.92 316.77 290.33 316.67 290.75 316.88C291.17 317.08 291.58 318.75 292.00 318.75C292.42 318.75 292.79 317.81 293.25 316.88C293.71 315.94 294.25 314.17 294.75 313.12C295.25 312.08 295.73 311.15 296.25 310.62C296.77 310.10 297.40 309.79 297.88 310.00C298.35 310.21 298.71 311.15 299.12 311.88C299.54 312.60 299.96 313.75 300.38 314.38C300.79 315.00 301.21 315.94 301.62 315.62C302.04 315.31 302.46 313.44 302.88 312.50C303.29 311.56 303.71 310.31 304.12 310.00C304.54 309.69 304.90 310.21 305.38 310.62C305.85 311.04 306.48 312.15 307.00 312.50C307.52 312.85 307.94 312.79 308.50 312.75C309.06 312.71 309.79 312.71 310.38 312.25C310.96 311.79 311.48 310.90 312.00 310.00C312.52 309.10 313.00 307.50 313.50 306.88C314.00 306.25 314.48 306.04 315.00 306.25C315.52 306.46 316.08 307.40 316.62 308.12C317.17 308.85 317.73 310.27 318.25 310.62C318.77 310.98 319.25 310.35 319.75 310.25C320.25 310.15 320.79 310.56 321.25 310.00C321.71 309.44 322.02 308.08 322.50 306.88C322.98 305.67 323.65 303.58 324.12 302.75C324.60 301.92 324.90 301.71 325.38 301.88C325.85 302.04 326.48 302.92 327.00 303.75C327.52 304.58 328.00 305.94 328.50 306.88C329.00 307.81 329.48 308.75 330.00 309.38C330.52 310.00 331.04 310.52 331.62 310.62C332.21 310.73 332.94 309.79 333.50 310.00C334.06 310.21 334.48 311.29 335.00 311.88C335.52 312.46 336.04 313.29 336.62 313.50C337.21 313.71 337.88 313.29 338.50 313.12C339.12 312.96 339.75 312.44 340.38 312.50C341.00 312.56 341.62 313.12 342.25 313.50C342.88 313.88 343.50 314.75 344.12 314.75C344.75 314.75 345.38 313.46 346.00 313.50C346.62 313.54 347.29 314.17 347.88 315.00C348.46 315.83 348.98 317.88 349.50 318.50C350.02 319.12 350.44 318.92 351.00 318.75C351.56 318.58 352.25 317.92 352.88 317.50C353.50 317.08 354.23 316.25 354.75 316.25C355.27 316.25 355.58 316.77 356.00 317.50C356.42 318.23 356.83 320.00 357.25 320.62C357.67 321.25 358.08 321.77 358.50 321.25C358.92 320.73 359.29 318.58 359.75 317.50C360.21 316.42 360.73 315.33 361.25 314.75C361.77 314.17 362.33 313.85 362.88 314.00C363.42 314.15 364.02 314.83 364.50 315.62C364.98 316.42 365.33 317.71 365.75 318.75C366.17 319.79 366.54 321.62 367.00 321.88C367.46 322.12 368.00 320.60 368.50 320.25C369.00 319.90 369.48 320.00 370.00 319.75C370.52 319.50 371.15 318.67 371.62 318.75C372.10 318.83 372.46 319.21 372.88 320.25C373.29 321.29 373.71 323.54 374.12 325.00C374.54 326.46 374.96 328.17 375.38 329.00C375.79 329.83 376.21 329.38 376.62 330.00C377.04 330.62 377.46 332.12 377.88 332.75C378.29 333.38 378.71 334.00 379.12 333.75C379.54 333.50 379.96 331.88 380.38 331.25C380.79 330.62 381.21 329.69 381.62 330.00C382.04 330.31 382.46 332.40 382.88 333.12C383.29 333.85 383.71 334.58 384.12 334.38C384.54 334.17 384.96 333.12 385.38 331.88C385.79 330.62 386.21 328.44 386.62 326.88C387.04 325.31 387.40 323.40 387.88 322.50C388.35 321.60 388.98 321.96 389.50 321.50C390.02 321.04 390.50 319.96 391.00 319.75C391.50 319.54 391.98 320.10 392.50 320.25C393.02 320.40 393.65 320.77 394.12 320.62C394.60 320.48 394.96 319.79 395.38 319.38C395.79 318.96 396.15 318.12 396.62 318.12C397.10 318.12 397.73 318.85 398.25 319.38C398.77 319.90 399.25 320.73 399.75 321.25C400.25 321.77 400.73 321.77 401.25 322.50C401.77 323.23 402.33 325.31 402.88 325.62C403.42 325.94 403.98 324.17 404.50 324.38C405.02 324.58 405.50 326.77 406.00 326.88C406.50 326.98 406.98 325.56 407.50 325.00C408.02 324.44 408.58 323.40 409.12 323.50C409.67 323.60 410.23 324.79 410.75 325.62C411.27 326.46 411.75 327.67 412.25 328.50C412.75 329.33 413.23 329.75 413.75 330.62C414.27 331.50 414.83 332.60 415.38 333.75C415.92 334.90 416.52 336.15 417.00 337.50C417.48 338.85 417.83 340.31 418.25 341.88C418.67 343.44 419.08 345.42 419.50 346.88C419.92 348.33 420.33 350.21 420.75 350.62C421.17 351.04 421.54 349.48 422.00 349.38C422.46 349.27 423.00 349.69 423.50 350.00C424.00 350.31 424.54 350.73 425.00 351.25C425.46 351.77 425.88 352.67 426.25 353.12C426.62 353.58 426.88 354.31 427.25 354.00C427.62 353.69 428.08 352.65 428.50 351.25C428.92 349.85 429.33 347.29 429.75 345.62C430.17 343.96 430.54 341.77 431.00 341.25C431.46 340.73 431.98 341.98 432.50 342.50C433.02 343.02 433.54 344.06 434.12 344.38C434.71 344.69 435.38 344.48 436.00 344.38C436.62 344.27 437.29 344.17 437.88 343.75C438.46 343.33 438.98 342.60 439.50 341.88C440.02 341.15 440.50 339.69 441.00 339.38C441.50 339.06 441.98 340.21 442.50 340.00C443.02 339.79 443.58 338.79 444.12 338.12C444.67 337.46 445.19 336.21 445.75 336.00C446.31 335.79 446.94 336.52 447.50 336.88C448.06 337.23 448.71 337.75 449.12 338.12C449.54 338.50 449.65 339.17 450.00 339.12C450.35 339.08 450.83 338.40 451.25 337.88C451.67 337.35 452.04 336.10 452.50 336.00C452.96 335.90 453.54 337.29 454.00 337.25C454.46 337.21 454.83 335.96 455.25 335.75C455.67 335.54 456.08 335.54 456.50 336.00C456.92 336.46 457.38 338.04 457.75 338.50C458.12 338.96 458.38 339.06 458.75 338.75C459.12 338.44 459.58 337.08 460.00 336.62C460.42 336.17 460.83 336.06 461.25 336.00C461.67 335.94 462.08 336.42 462.50 336.25C462.92 336.08 463.33 334.94 463.75 335.00C464.17 335.06 464.58 336.50 465.00 336.62C465.42 336.75 465.83 335.65 466.25 335.75C466.67 335.85 467.08 336.62 467.50 337.25C467.92 337.88 468.33 339.60 468.75 339.50C469.17 339.40 469.58 337.62 470.00 336.62C470.42 335.62 470.83 334.23 471.25 333.50C471.67 332.77 472.04 332.50 472.50 332.25C472.96 332.00 473.48 332.31 474.00 332.00C474.52 331.69 475.08 330.96 475.62 330.38C476.17 329.79 476.73 329.12 477.25 328.50C477.77 327.88 478.25 327.56 478.75 326.62C479.25 325.69 479.73 323.92 480.25 322.88C480.77 321.83 481.33 320.94 481.88 320.38C482.42 319.81 483.02 319.77 483.50 319.50C483.98 319.23 484.29 318.50 484.75 318.75C485.21 319.00 485.75 320.17 486.25 321.00C486.75 321.83 487.23 322.81 487.75 323.75C488.27 324.69 488.83 325.62 489.38 326.62C489.92 327.62 490.48 328.85 491.00 329.75C491.52 330.65 492.04 331.27 492.50 332.00C492.96 332.73 493.38 332.94 493.75 334.12C494.12 335.31 494.38 338.50 494.75 339.12C495.12 339.75 495.58 338.23 496.00 337.88C496.42 337.52 496.83 336.58 497.25 337.00C497.67 337.42 498.04 339.40 498.50 340.38C498.96 341.35 499.50 342.10 500.00 342.88C500.50 343.65 500.98 344.69 501.50 345.00C502.02 345.31 502.65 344.96 503.12 344.75C503.60 344.54 503.96 343.58 504.38 343.75C504.79 343.92 505.21 345.69 505.62 345.75C506.04 345.81 506.40 344.50 506.88 344.12C507.35 343.75 507.98 343.71 508.50 343.50C509.02 343.29 509.44 343.12 510.00 342.88C510.56 342.62 511.25 342.31 511.88 342.00C512.50 341.69 513.12 341.27 513.75 341.00C514.38 340.73 515.00 340.54 515.62 340.38C516.25 340.21 516.88 339.79 517.50 340.00C518.12 340.21 518.79 340.94 519.38 341.62C519.96 342.31 520.48 343.19 521.00 344.12C521.52 345.06 522.00 346.00 522.50 347.25C523.00 348.50 523.54 349.96 524.00 351.62C524.46 353.29 524.92 355.69 525.25 357.25C525.58 358.81 525.67 359.44 526.00 361.00C526.33 362.56 526.79 364.65 527.25 366.62C527.71 368.60 528.29 370.79 528.75 372.88C529.21 374.96 529.58 377.46 530.00 379.12C530.42 380.79 530.83 382.56 531.25 382.88C531.67 383.19 532.08 382.46 532.50 381.00C532.92 379.54 533.33 376.52 533.75 374.12C534.17 371.73 534.58 368.60 535.00 366.62C535.42 364.65 535.83 363.08 536.25 362.25C536.67 361.42 537.04 361.10 537.50 361.62C537.96 362.15 538.54 363.92 539.00 365.38C539.46 366.83 539.83 368.71 540.25 370.38C540.67 372.04 541.08 374.06 541.50 375.38C541.92 376.69 542.33 378.04 542.75 378.25C543.17 378.46 543.58 377.73 544.00 376.62C544.42 375.52 544.83 373.50 545.25 371.62C545.67 369.75 546.21 366.94 546.50 365.38C546.79 363.81 546.71 363.08 547.00 362.25C547.29 361.42 547.79 360.62 548.25 360.38C548.71 360.12 549.25 360.33 549.75 360.75C550.25 361.17 550.73 361.79 551.25 362.88C551.77 363.96 552.33 365.48 552.88 367.25C553.42 369.02 554.02 371.62 554.50 373.50C554.98 375.38 555.33 377.35 555.75 378.50C556.17 379.65 556.58 380.38 557.00 380.38C557.42 380.38 557.83 378.98 558.25 378.50C558.67 378.02 559.08 377.33 559.50 377.50C559.92 377.67 560.33 379.65 560.75 379.50C561.17 379.35 561.58 378.04 562.00 376.62C562.42 375.21 562.83 372.88 563.25 371.00C563.67 369.12 564.08 366.79 564.50 365.38C564.92 363.96 565.33 363.06 565.75 362.50C566.17 361.94 566.54 361.88 567.00 362.00C567.46 362.12 567.94 362.48 568.50 363.25C569.06 364.02 569.75 365.33 570.38 366.62C571.00 367.92 571.69 369.44 572.25 371.00C572.81 372.56 573.29 374.23 573.75 376.00C574.21 377.77 574.58 379.75 575.00 381.62C575.42 383.50 575.77 385.58 576.25 387.25C576.73 388.92 577.33 390.38 577.88 391.62C578.42 392.88 578.94 393.71 579.50 394.75C580.06 395.79 580.69 397.04 581.25 397.88C581.81 398.71 582.29 399.40 582.88 399.75C583.46 400.10 584.12 400.00 584.75 400.00C585.38 400.00 586.00 399.83 586.62 399.75C587.25 399.67 587.88 399.50 588.50 399.50C589.12 399.50 589.79 399.67 590.38 399.75C590.96 399.83 591.52 400.31 592.00 400.00C592.48 399.69 592.83 397.96 593.25 397.88C593.67 397.79 594.04 398.94 594.50 399.50C594.96 400.06 595.50 400.83 596.00 401.25C596.50 401.67 596.98 402.15 597.50 402.00C598.02 401.85 598.58 400.85 599.12 400.38C599.67 399.90 600.23 399.40 600.75 399.12C601.27 398.85 601.75 399.17 602.25 398.75C602.75 398.33 603.23 396.92 603.75 396.62C604.27 396.33 604.83 396.79 605.38 397.00C605.92 397.21 606.48 397.52 607.00 397.88C607.52 398.23 608.00 398.71 608.50 399.12C609.00 399.54 609.48 400.31 610.00 400.38C610.52 400.44 611.04 399.77 611.62 399.50C612.21 399.23 612.88 399.02 613.50 398.75C614.12 398.48 614.75 398.29 615.38 397.88C616.00 397.46 616.62 396.67 617.25 396.25C617.88 395.83 618.54 395.73 619.12 395.38C619.71 395.02 620.23 394.85 620.75 394.12C621.27 393.40 621.75 392.15 622.25 391.00C622.75 389.85 623.23 388.50 623.75 387.25C624.27 386.00 624.83 384.75 625.38 383.50C625.92 382.25 626.48 381.00 627.00 379.75C627.52 378.50 628.00 377.25 628.50 376.00C629.00 374.75 629.54 373.50 630.00 372.25C630.46 371.00 630.83 369.85 631.25 368.50C631.67 367.15 632.08 365.58 632.50 364.12C632.92 362.67 633.33 361.10 633.75 359.75C634.17 358.40 634.73 357.42 635.00 356.00C635.27 354.58 635.10 352.88 635.38 351.25C635.65 349.62 636.21 347.54 636.62 346.25C637.04 344.96 637.40 344.12 637.88 343.50C638.35 342.88 638.98 342.56 639.50 342.50C640.02 342.44 640.50 342.71 641.00 343.12C641.50 343.54 641.98 344.31 642.50 345.00C643.02 345.69 643.50 346.67 644.12 347.25C644.75 347.83 645.48 348.92 646.25 348.50C647.02 348.08 647.92 346.21 648.75 344.75C649.58 343.29 650.73 340.79 651.25 339.75C651.77 338.71 651.46 339.12 651.88 338.50C652.29 337.88 653.19 336.83 653.75 336.00C654.31 335.17 654.73 334.54 655.25 333.50C655.77 332.46 656.40 331.21 656.88 329.75C657.35 328.29 657.71 326.62 658.12 324.75C658.54 322.88 659.02 320.79 659.38 318.50C659.73 316.21 659.94 313.71 660.25 311.00C660.56 308.29 660.96 305.17 661.25 302.25C661.54 299.33 661.75 296.21 662.00 293.50C662.25 290.79 662.54 288.00 662.75 286.00C662.96 284.00 663.04 284.33 663.25 281.50C663.46 278.67 663.75 270.46 664.00 269.00C664.25 267.54 664.48 270.88 664.75 272.75C665.02 274.62 665.27 277.75 665.62 280.25C665.98 282.75 666.46 285.77 666.88 287.75C667.29 289.73 667.65 291.08 668.12 292.12C668.60 293.17 669.23 294.00 669.75 294.00C670.27 294.00 670.75 292.71 671.25 292.12C671.75 291.54 672.29 290.40 672.75 290.50C673.21 290.60 673.58 291.54 674.00 292.75C674.42 293.96 674.71 295.75 675.25 297.75C675.79 299.75 676.67 303.27 677.25 304.75C677.83 306.23 678.25 306.62 678.75 306.62C679.25 306.62 679.73 305.27 680.25 304.75C680.77 304.23 681.33 303.40 681.88 303.50C682.42 303.60 682.94 304.85 683.50 305.38C684.06 305.90 684.58 306.21 685.25 306.62C685.92 307.04 687.12 307.67 687.50 307.88" stroke="#e8c608"/>
<path d="M40.75 254.12C40.83 254.65 41.04 256.00 41.25 257.25C41.46 258.50 41.73 260.48 42.00 261.62C42.27 262.77 42.52 263.56 42.88 264.12C43.23 264.69 43.60 265.10 44.12 265.00C44.65 264.90 45.27 264.12 46.00 263.50C46.73 262.88 47.71 261.77 48.50 261.25C49.29 260.73 50.02 260.38 50.75 260.38C51.48 260.38 52.10 260.77 52.88 261.25C53.65 261.73 54.54 262.67 55.38 263.25C56.21 263.83 57.04 264.33 57.88 264.75C58.71 265.17 59.54 265.54 60.38 265.75C61.21 265.96 62.04 266.10 62.88 266.00C63.71 265.90 64.54 265.54 65.38 265.12C66.21 264.71 67.10 263.94 67.88 263.50C68.65 263.06 69.38 262.67 70.00 262.50C70.62 262.33 71.04 262.29 71.62 262.50C72.21 262.71 72.81 263.33 73.50 263.75C74.19 264.17 75.02 264.88 75.75 265.00C76.48 265.12 77.21 264.79 77.88 264.50C78.54 264.21 79.19 263.42 79.75 263.25C80.31 263.08 80.67 263.21 81.25 263.50C81.83 263.79 82.56 264.48 83.25 265.00C83.94 265.52 84.71 266.35 85.38 266.62C86.04 266.90 86.62 266.77 87.25 266.62C87.88 266.48 88.50 265.90 89.12 265.75C89.75 265.60 90.44 265.50 91.00 265.75C91.56 266.00 91.98 266.62 92.50 267.25C93.02 267.88 93.54 268.83 94.12 269.50C94.71 270.17 95.23 270.75 96.00 271.25C96.77 271.75 97.67 271.88 98.75 272.50C99.83 273.12 101.25 273.96 102.50 275.00C103.75 276.04 105.08 277.79 106.25 278.75C107.42 279.71 108.46 280.96 109.50 280.75C110.54 280.54 111.58 278.38 112.50 277.50C113.42 276.62 114.08 275.50 115.00 275.50C115.92 275.50 116.96 277.58 118.00 277.50C119.04 277.42 120.29 275.54 121.25 275.00C122.21 274.46 122.71 274.12 123.75 274.25C124.79 274.38 126.25 275.83 127.50 275.75C128.75 275.67 130.00 274.42 131.25 273.75C132.50 273.08 134.12 271.81 135.00 271.75C135.88 271.69 136.04 272.69 136.50 273.38C136.96 274.06 137.33 274.94 137.75 275.88C138.17 276.81 138.58 278.02 139.00 279.00C139.42 279.98 139.77 280.92 140.25 281.75C140.73 282.58 141.33 283.42 141.88 284.00C142.42 284.58 142.98 285.00 143.50 285.25C144.02 285.50 144.50 285.60 145.00 285.50C145.50 285.40 146.04 284.62 146.50 284.62C146.96 284.62 147.27 285.08 147.75 285.50C148.23 285.92 148.83 286.65 149.38 287.12C149.92 287.60 150.44 288.23 151.00 288.38C151.56 288.52 152.19 288.06 152.75 288.00C153.31 287.94 153.83 287.79 154.38 288.00C154.92 288.21 155.44 288.77 156.00 289.25C156.56 289.73 157.19 290.33 157.75 290.88C158.31 291.42 158.79 292.02 159.38 292.50C159.96 292.98 160.62 293.40 161.25 293.75C161.88 294.10 162.54 294.42 163.12 294.62C163.71 294.83 164.23 295.10 164.75 295.00C165.27 294.90 165.75 294.48 166.25 294.00C166.75 293.52 167.23 292.65 167.75 292.12C168.27 291.60 168.90 291.02 169.38 290.88C169.85 290.73 170.21 290.90 170.62 291.25C171.04 291.60 171.46 292.23 171.88 293.00C172.29 293.77 172.71 294.98 173.12 295.88C173.54 296.77 173.85 297.27 174.38 298.38C174.90 299.48 175.52 302.44 176.25 302.50C176.98 302.56 177.92 299.79 178.75 298.75C179.58 297.71 180.42 296.04 181.25 296.25C182.08 296.46 183.23 298.96 183.75 300.00C184.27 301.04 183.96 301.35 184.38 302.50C184.79 303.65 185.62 305.83 186.25 306.88C186.88 307.92 187.50 308.54 188.12 308.75C188.75 308.96 189.31 307.71 190.00 308.12C190.69 308.54 191.58 310.42 192.25 311.25C192.92 312.08 193.44 313.23 194.00 313.12C194.56 313.02 195.08 311.88 195.62 310.62C196.17 309.38 196.73 307.19 197.25 305.62C197.77 304.06 198.33 302.19 198.75 301.25C199.17 300.31 199.44 299.58 199.75 300.00C200.06 300.42 200.27 302.75 200.62 303.75C200.98 304.75 201.35 305.69 201.88 306.00C202.40 306.31 203.19 305.17 203.75 305.62C204.31 306.08 204.73 307.60 205.25 308.75C205.77 309.90 206.33 311.67 206.88 312.50C207.42 313.33 208.02 313.23 208.50 313.75C208.98 314.27 209.33 314.38 209.75 315.62C210.17 316.88 210.54 319.06 211.00 321.25C211.46 323.44 212.00 326.56 212.50 328.75C213.00 330.94 213.48 332.81 214.00 334.38C214.52 335.94 215.15 337.29 215.62 338.12C216.10 338.96 216.46 339.79 216.88 339.38C217.29 338.96 217.65 337.50 218.12 335.62C218.60 333.75 219.23 330.52 219.75 328.12C220.27 325.73 220.75 323.02 221.25 321.25C221.75 319.48 222.29 318.23 222.75 317.50C223.21 316.77 223.52 316.67 224.00 316.88C224.48 317.08 225.08 317.71 225.62 318.75C226.17 319.79 226.77 322.19 227.25 323.12C227.73 324.06 228.08 324.06 228.50 324.38C228.92 324.69 229.33 324.38 229.75 325.00C230.17 325.62 230.54 327.40 231.00 328.12C231.46 328.85 231.94 329.23 232.50 329.38C233.06 329.52 233.79 329.21 234.38 329.00C234.96 328.79 235.48 327.96 236.00 328.12C236.52 328.29 237.04 328.85 237.50 330.00C237.96 331.15 238.33 333.85 238.75 335.00C239.17 336.15 239.62 337.08 240.00 336.88C240.38 336.67 240.69 335.73 241.00 333.75C241.31 331.77 241.52 328.54 241.88 325.00C242.23 321.46 242.71 316.04 243.12 312.50C243.54 308.96 244.02 305.83 244.38 303.75C244.73 301.67 244.94 301.62 245.25 300.00C245.56 298.38 245.88 295.94 246.25 294.00C246.62 292.06 247.04 290.15 247.50 288.38C247.96 286.60 248.48 284.52 249.00 283.38C249.52 282.23 250.15 281.85 250.62 281.50C251.10 281.15 251.40 281.46 251.88 281.25C252.35 281.04 252.98 280.00 253.50 280.25C254.02 280.50 254.44 281.81 255.00 282.75C255.56 283.69 256.25 284.83 256.88 285.88C257.50 286.92 258.12 287.96 258.75 289.00C259.38 290.04 260.04 292.02 260.62 292.12C261.21 292.23 261.73 290.46 262.25 289.62C262.77 288.79 263.19 287.96 263.75 287.12C264.31 286.29 265.00 285.67 265.62 284.62C266.25 283.58 266.88 282.12 267.50 280.88C268.12 279.62 268.79 278.58 269.38 277.12C269.96 275.67 270.48 273.79 271.00 272.12C271.52 270.46 272.00 268.58 272.50 267.12C273.00 265.67 273.48 264.31 274.00 263.38C274.52 262.44 275.04 262.02 275.62 261.50C276.21 260.98 276.88 260.67 277.50 260.25C278.12 259.83 278.79 259.62 279.38 259.00C279.96 258.38 280.44 257.33 281.00 256.50C281.56 255.67 282.19 254.67 282.75 254.00C283.31 253.33 283.83 252.88 284.38 252.50C284.92 252.12 285.48 251.81 286.00 251.75C286.52 251.69 287.00 251.75 287.50 252.12C288.00 252.50 288.54 252.85 289.00 254.00C289.46 255.15 289.88 256.71 290.25 259.00C290.62 261.29 290.88 264.42 291.25 267.75C291.62 271.08 292.08 275.67 292.50 279.00C292.92 282.33 293.38 285.56 293.75 287.75C294.12 289.94 294.44 291.92 294.75 292.12C295.06 292.33 295.33 290.56 295.62 289.00C295.92 287.44 296.15 284.31 296.50 282.75C296.85 281.19 297.27 280.04 297.75 279.62C298.23 279.21 298.83 280.25 299.38 280.25C299.92 280.25 300.48 279.88 301.00 279.62C301.52 279.38 302.00 278.81 302.50 278.75C303.00 278.69 303.58 278.58 304.00 279.25C304.42 279.92 304.67 281.12 305.00 282.75C305.33 284.38 305.69 286.88 306.00 289.00C306.31 291.12 306.52 293.56 306.88 295.50C307.23 297.44 307.71 300.21 308.12 300.62C308.54 301.04 308.96 298.69 309.38 298.00C309.79 297.31 310.21 296.65 310.62 296.50C311.04 296.35 311.46 297.54 311.88 297.12C312.29 296.71 312.65 295.04 313.12 294.00C313.60 292.96 314.19 291.71 314.75 290.88C315.31 290.04 315.94 289.48 316.50 289.00C317.06 288.52 317.54 288.21 318.12 288.00C318.71 287.79 319.38 288.00 320.00 287.75C320.62 287.50 321.29 287.12 321.88 286.50C322.46 285.88 323.02 284.62 323.50 284.00C323.98 283.38 324.29 282.65 324.75 282.75C325.21 282.85 325.69 283.90 326.25 284.62C326.81 285.35 327.54 286.40 328.12 287.12C328.71 287.85 329.23 288.90 329.75 289.00C330.27 289.10 330.69 288.27 331.25 287.75C331.81 287.23 332.50 286.40 333.12 285.88C333.75 285.35 334.38 284.94 335.00 284.62C335.62 284.31 336.25 284.27 336.88 284.00C337.50 283.73 338.23 283.00 338.75 283.00C339.27 283.00 339.54 283.88 340.00 284.00C340.46 284.12 340.98 284.06 341.50 283.75C342.02 283.44 342.54 282.81 343.12 282.12C343.71 281.44 344.38 280.52 345.00 279.62C345.62 278.73 346.25 277.48 346.88 276.75C347.50 276.02 348.12 275.60 348.75 275.25C349.38 274.90 350.00 274.94 350.62 274.62C351.25 274.31 351.94 274.00 352.50 273.38C353.06 272.75 353.48 271.50 354.00 270.88C354.52 270.25 355.04 270.04 355.62 269.62C356.21 269.21 356.88 268.79 357.50 268.38C358.12 267.96 358.75 267.44 359.38 267.12C360.00 266.81 360.62 266.50 361.25 266.50C361.88 266.50 362.54 266.81 363.12 267.12C363.71 267.44 364.27 267.65 364.75 268.38C365.23 269.10 365.54 270.56 366.00 271.50C366.46 272.44 366.94 273.48 367.50 274.00C368.06 274.52 368.75 274.62 369.38 274.62C370.00 274.62 370.69 274.06 371.25 274.00C371.81 273.94 372.23 273.83 372.75 274.25C373.27 274.67 373.83 275.71 374.38 276.50C374.92 277.29 375.48 278.21 376.00 279.00C376.52 279.79 377.00 280.83 377.50 281.25C378.00 281.67 378.48 281.56 379.00 281.50C379.52 281.44 380.04 281.04 380.62 280.88C381.21 280.71 381.88 280.40 382.50 280.50C383.12 280.60 383.75 281.38 384.38 281.50C385.00 281.62 385.62 281.35 386.25 281.25C386.88 281.15 387.50 281.15 388.12 280.88C388.75 280.60 389.38 280.15 390.00 279.62C390.62 279.10 391.29 278.23 391.88 277.75C392.46 277.27 392.98 276.92 393.50 276.75C394.02 276.58 394.50 276.48 395.00 276.75C395.50 277.02 395.98 277.69 396.50 278.38C397.02 279.06 397.58 279.94 398.12 280.88C398.67 281.81 399.19 282.96 399.75 284.00C400.31 285.04 400.94 286.08 401.50 287.12C402.06 288.17 402.54 289.10 403.12 290.25C403.71 291.40 404.38 292.65 405.00 294.00C405.62 295.35 406.48 297.21 406.88 298.38C407.27 299.54 407.10 299.90 407.38 301.00C407.65 302.10 408.06 303.29 408.50 305.00C408.94 306.71 409.48 309.17 410.00 311.25C410.52 313.33 411.08 315.62 411.62 317.50C412.17 319.38 412.77 321.46 413.25 322.50C413.73 323.54 414.08 323.96 414.50 323.75C414.92 323.54 415.33 322.92 415.75 321.25C416.17 319.58 416.58 316.46 417.00 313.75C417.42 311.04 417.85 308.29 418.25 305.00C418.65 301.71 418.98 297.08 419.38 294.00C419.77 290.92 420.21 289.21 420.62 286.50C421.04 283.79 421.46 280.56 421.88 277.75C422.29 274.94 422.65 272.12 423.12 269.62C423.60 267.12 424.23 264.35 424.75 262.75C425.27 261.15 425.75 260.58 426.25 260.00C426.75 259.42 427.23 259.21 427.75 259.25C428.27 259.29 428.90 259.67 429.38 260.25C429.85 260.83 430.21 261.50 430.62 262.75C431.04 264.00 431.46 265.88 431.88 267.75C432.29 269.62 432.71 271.92 433.12 274.00C433.54 276.08 433.96 278.48 434.38 280.25C434.79 282.02 435.21 283.90 435.62 284.62C436.04 285.35 436.46 285.56 436.88 284.62C437.29 283.69 437.71 281.19 438.12 279.00C438.54 276.81 439.06 272.33 439.38 271.50C439.69 270.67 439.73 274.83 440.00 274.00C440.27 273.17 440.62 268.21 441.00 266.50C441.38 264.79 441.79 264.33 442.25 263.75C442.71 263.17 443.19 263.06 443.75 263.00C444.31 262.94 445.04 263.00 445.62 263.38C446.21 263.75 446.73 264.42 447.25 265.25C447.77 266.08 448.19 267.44 448.75 268.38C449.31 269.31 450.00 269.94 450.62 270.88C451.25 271.81 451.88 273.17 452.50 274.00C453.12 274.83 453.75 275.15 454.38 275.88C455.00 276.60 455.62 277.54 456.25 278.38C456.88 279.21 457.50 280.15 458.12 280.88C458.75 281.60 459.31 282.23 460.00 282.75C460.69 283.27 461.52 283.69 462.25 284.00C462.98 284.31 463.67 284.42 464.38 284.62C465.08 284.83 465.81 284.83 466.50 285.25C467.19 285.67 467.81 286.40 468.50 287.12C469.19 287.85 469.92 288.79 470.62 289.62C471.33 290.46 472.06 291.40 472.75 292.12C473.44 292.85 474.06 293.44 474.75 294.00C475.44 294.56 476.17 295.12 476.88 295.50C477.58 295.88 478.27 296.19 479.00 296.25C479.73 296.31 480.56 295.83 481.25 295.88C481.94 295.92 482.54 296.60 483.12 296.50C483.71 296.40 484.27 295.77 484.75 295.25C485.23 294.73 485.54 293.90 486.00 293.38C486.46 292.85 487.00 292.48 487.50 292.12C488.00 291.77 488.48 291.67 489.00 291.25C489.52 290.83 490.15 290.21 490.62 289.62C491.10 289.04 491.46 288.69 491.88 287.75C492.29 286.81 492.71 285.15 493.12 284.00C493.54 282.85 493.96 281.71 494.38 280.88C494.79 280.04 495.21 279.35 495.62 279.00C496.04 278.65 496.40 278.54 496.88 278.75C497.35 278.96 497.98 279.54 498.50 280.25C499.02 280.96 499.50 281.96 500.00 283.00C500.50 284.04 500.98 285.29 501.50 286.50C502.02 287.71 502.58 289.00 503.12 290.25C503.67 291.50 504.19 292.85 504.75 294.00C505.31 295.15 506.04 295.92 506.50 297.12C506.96 298.33 506.92 299.94 507.50 301.25C508.08 302.56 509.38 303.58 510.00 305.00C510.62 306.42 510.62 307.92 511.25 309.75C511.88 311.58 512.79 314.33 513.75 316.00C514.71 317.67 515.96 319.12 517.00 319.75C518.04 320.38 519.08 320.79 520.00 319.75C520.92 318.71 521.75 316.21 522.50 313.50C523.25 310.79 524.08 306.75 524.50 303.50C524.92 300.25 524.71 296.52 525.00 294.00C525.29 291.48 525.79 289.83 526.25 288.38C526.71 286.92 527.23 286.08 527.75 285.25C528.27 284.42 528.90 284.42 529.38 283.38C529.85 282.33 530.15 281.40 530.62 279.00C531.10 276.60 531.73 272.12 532.25 269.00C532.77 265.88 533.25 262.65 533.75 260.25C534.25 257.85 534.73 255.98 535.25 254.62C535.77 253.27 536.40 252.02 536.88 252.12C537.35 252.23 537.71 253.48 538.12 255.25C538.54 257.02 539.06 261.29 539.38 262.75C539.69 264.21 539.73 262.54 540.00 264.00C540.27 265.46 540.62 268.79 541.00 271.50C541.38 274.21 541.79 277.54 542.25 280.25C542.71 282.96 543.25 285.46 543.75 287.75C544.25 290.04 544.62 291.96 545.25 294.00C545.88 296.04 547.06 297.96 547.50 300.00C547.94 302.04 547.67 303.96 547.88 306.25C548.08 308.54 548.44 311.04 548.75 313.75C549.06 316.46 549.42 319.90 549.75 322.50C550.08 325.10 550.44 328.12 550.75 329.38C551.06 330.62 551.33 330.73 551.62 330.00C551.92 329.27 552.19 326.88 552.50 325.00C552.81 323.12 553.12 320.73 553.50 318.75C553.88 316.77 554.33 314.62 554.75 313.12C555.17 311.62 555.58 310.52 556.00 309.75C556.42 308.98 556.83 308.35 557.25 308.50C557.67 308.65 558.08 309.65 558.50 310.62C558.92 311.60 559.29 313.23 559.75 314.38C560.21 315.52 560.79 316.46 561.25 317.50C561.71 318.54 562.08 319.48 562.50 320.62C562.92 321.77 563.33 323.33 563.75 324.38C564.17 325.42 564.58 326.31 565.00 326.88C565.42 327.44 565.77 327.90 566.25 327.75C566.73 327.60 567.33 326.56 567.88 326.00C568.42 325.44 568.98 324.75 569.50 324.38C570.02 324.00 570.44 323.75 571.00 323.75C571.56 323.75 572.25 324.21 572.88 324.38C573.50 324.54 574.12 324.81 574.75 324.75C575.38 324.69 576.00 324.33 576.62 324.00C577.25 323.67 577.94 323.31 578.50 322.75C579.06 322.19 579.48 321.50 580.00 320.62C580.52 319.75 581.08 318.60 581.62 317.50C582.17 316.40 582.73 315.15 583.25 314.00C583.77 312.85 584.25 311.71 584.75 310.62C585.25 309.54 585.73 308.33 586.25 307.50C586.77 306.67 587.29 306.08 587.88 305.62C588.46 305.17 589.12 304.90 589.75 304.75C590.38 304.60 591.00 304.75 591.62 304.75C592.25 304.75 592.88 304.60 593.50 304.75C594.12 304.90 594.79 305.69 595.38 305.62C595.96 305.56 596.48 304.52 597.00 304.38C597.52 304.23 598.00 304.33 598.50 304.75C599.00 305.17 599.48 305.90 600.00 306.88C600.52 307.85 601.08 309.38 601.62 310.62C602.17 311.88 602.69 313.23 603.25 314.38C603.81 315.52 604.44 316.46 605.00 317.50C605.56 318.54 606.15 319.48 606.62 320.62C607.10 321.77 607.46 322.71 607.88 324.38C608.29 326.04 608.71 328.44 609.12 330.62C609.54 332.81 609.96 335.31 610.38 337.50C610.79 339.69 611.21 341.77 611.62 343.75C612.04 345.73 612.46 347.60 612.88 349.38C613.29 351.15 613.85 352.65 614.12 354.38C614.40 356.10 614.29 358.60 614.50 359.75C614.71 360.90 615.08 361.25 615.38 361.25C615.67 361.25 615.90 361.46 616.25 359.75C616.60 358.04 617.23 352.62 617.50 351.00C617.77 349.38 617.54 351.52 617.88 350.00C618.21 348.48 618.98 344.48 619.50 341.88C620.02 339.27 620.50 336.77 621.00 334.38C621.50 331.98 622.04 329.27 622.50 327.50C622.96 325.73 623.33 324.62 623.75 323.75C624.17 322.88 624.58 322.15 625.00 322.25C625.42 322.35 625.83 323.08 626.25 324.38C626.67 325.67 627.08 328.12 627.50 330.00C627.92 331.88 628.33 333.85 628.75 335.62C629.17 337.40 629.58 339.17 630.00 340.62C630.42 342.08 630.83 343.60 631.25 344.38C631.67 345.15 632.12 345.56 632.50 345.25C632.88 344.94 633.17 344.00 633.50 342.50C633.83 341.00 634.19 338.54 634.50 336.25C634.81 333.96 635.08 331.04 635.38 328.75C635.67 326.46 635.94 323.96 636.25 322.50C636.56 321.04 636.88 319.96 637.25 320.00C637.62 320.04 638.04 322.50 638.50 322.75C638.96 323.00 639.48 321.92 640.00 321.50C640.52 321.08 641.15 320.92 641.62 320.25C642.10 319.58 642.46 318.58 642.88 317.50C643.29 316.42 643.71 314.69 644.12 313.75C644.54 312.81 644.90 312.75 645.38 311.88C645.85 311.00 646.27 311.48 647.00 308.50C647.73 305.52 649.08 297.88 649.75 294.00C650.42 290.12 650.54 287.85 651.00 285.25C651.46 282.65 651.94 280.15 652.50 278.38C653.06 276.60 653.75 275.67 654.38 274.62C655.00 273.58 655.69 273.17 656.25 272.12C656.81 271.08 657.29 270.35 657.75 268.38C658.21 266.40 658.58 263.27 659.00 260.25C659.42 257.23 659.88 253.62 660.25 250.25C660.62 246.88 660.92 243.38 661.25 240.00C661.58 236.62 661.94 232.71 662.25 230.00C662.56 227.29 662.88 225.04 663.12 223.75C663.38 222.46 663.52 222.15 663.75 222.25C663.98 222.35 664.23 222.88 664.50 224.38C664.77 225.88 665.08 228.65 665.38 231.25C665.67 233.85 665.90 235.90 666.25 240.00C666.60 244.10 667.08 252.75 667.50 255.88C667.92 259.00 668.33 258.54 668.75 258.75C669.17 258.96 669.58 258.33 670.00 257.12C670.42 255.92 670.94 253.62 671.25 251.50C671.56 249.38 671.56 245.83 671.88 244.38C672.19 242.92 672.71 242.85 673.12 242.75C673.54 242.65 673.96 243.12 674.38 243.75C674.79 244.38 675.15 245.21 675.62 246.50C676.10 247.79 676.73 250.08 677.25 251.50C677.77 252.92 678.19 254.27 678.75 255.00C679.31 255.73 680.04 255.21 680.62 255.88C681.21 256.54 681.73 257.85 682.25 259.00C682.77 260.15 683.19 261.40 683.75 262.75C684.31 264.10 685.04 265.77 685.62 267.12C686.21 268.48 686.73 270.25 687.25 270.88C687.77 271.50 688.19 271.19 688.75 270.88C689.31 270.56 690.00 269.56 690.62 269.00C691.25 268.44 691.94 267.81 692.50 267.50C693.06 267.19 693.48 266.88 694.00 267.12C694.52 267.38 695.08 267.85 695.62 269.00C696.17 270.15 696.73 272.33 697.25 274.00C697.77 275.67 698.19 277.54 698.75 279.00C699.31 280.46 700.00 281.50 700.62 282.75C701.25 284.00 701.98 285.44 702.50 286.50C703.02 287.56 703.29 288.17 703.75 289.12C704.21 290.08 704.73 291.10 705.25 292.25C705.77 293.40 706.33 294.75 706.88 296.00C707.42 297.25 707.98 298.60 708.50 299.75C709.02 300.90 709.50 302.04 710.00 302.88C710.50 303.71 710.98 304.02 711.50 304.75C712.02 305.48 712.58 306.52 713.12 307.25C713.67 307.98 714.23 308.71 714.75 309.12C715.27 309.54 715.69 309.75 716.25 309.75C716.81 309.75 717.54 309.23 718.12 309.12C718.71 309.02 719.48 309.12 719.75 309.12" stroke="#ea9a0a"/>
<path d="M40.75 239.12C40.83 238.71 41.04 237.56 41.25 236.62C41.46 235.69 41.67 234.65 42.00 233.50C42.33 232.35 42.79 230.90 43.25 229.75C43.71 228.60 44.19 227.46 44.75 226.62C45.31 225.79 46.00 225.23 46.62 224.75C47.25 224.27 47.88 223.96 48.50 223.75C49.12 223.54 49.75 223.48 50.38 223.50C51.00 223.52 51.62 223.62 52.25 223.88C52.88 224.12 53.50 224.54 54.12 225.00C54.75 225.46 55.38 226.10 56.00 226.62C56.62 227.15 57.25 227.71 57.88 228.12C58.50 228.54 59.12 228.85 59.75 229.12C60.38 229.40 60.96 229.58 61.62 229.75C62.29 229.92 63.02 230.00 63.75 230.12C64.48 230.25 65.25 230.40 66.00 230.50C66.75 230.60 67.52 230.62 68.25 230.75C68.98 230.88 69.71 231.04 70.38 231.25C71.04 231.46 71.62 231.62 72.25 232.00C72.88 232.38 73.54 232.83 74.12 233.50C74.71 234.17 75.23 235.06 75.75 236.00C76.27 236.94 76.75 237.98 77.25 239.12C77.75 240.27 78.23 241.62 78.75 242.88C79.27 244.12 79.79 245.52 80.38 246.62C80.96 247.73 81.62 248.67 82.25 249.50C82.88 250.33 83.50 250.96 84.12 251.62C84.75 252.29 85.38 252.88 86.00 253.50C86.62 254.12 87.25 254.85 87.88 255.38C88.50 255.90 89.12 256.35 89.75 256.62C90.38 256.90 91.00 257.00 91.62 257.00C92.25 257.00 92.88 256.48 93.50 256.62C94.12 256.77 94.75 257.31 95.38 257.88C96.00 258.44 96.62 259.10 97.25 260.00C97.88 260.90 98.54 262.25 99.12 263.25C99.71 264.25 100.23 265.29 100.75 266.00C101.27 266.71 101.69 267.33 102.25 267.50C102.81 267.67 103.54 267.25 104.12 267.00C104.71 266.75 105.19 266.21 105.75 266.00C106.31 265.79 106.94 265.69 107.50 265.75C108.06 265.81 108.54 266.17 109.12 266.38C109.71 266.58 110.38 266.85 111.00 267.00C111.62 267.15 112.25 267.25 112.88 267.25C113.50 267.25 114.12 267.21 114.75 267.00C115.38 266.79 116.00 266.42 116.62 266.00C117.25 265.58 117.88 264.96 118.50 264.50C119.12 264.04 119.75 263.58 120.38 263.25C121.00 262.92 121.62 262.60 122.25 262.50C122.88 262.40 123.50 262.46 124.12 262.62C124.75 262.79 125.31 263.15 126.00 263.50C126.69 263.85 127.52 264.40 128.25 264.75C128.98 265.10 129.60 265.38 130.38 265.62C131.15 265.88 131.94 266.12 132.88 266.25C133.81 266.38 135.23 266.50 136.00 266.38C136.77 266.25 136.94 265.69 137.50 265.50C138.06 265.31 138.75 265.12 139.38 265.25C140.00 265.38 140.62 265.83 141.25 266.25C141.88 266.67 142.50 267.19 143.12 267.75C143.75 268.31 144.38 268.90 145.00 269.62C145.62 270.35 146.25 271.40 146.88 272.12C147.50 272.85 148.12 273.52 148.75 274.00C149.38 274.48 149.96 274.75 150.62 275.00C151.29 275.25 152.02 275.25 152.75 275.50C153.48 275.75 154.31 276.17 155.00 276.50C155.69 276.83 156.25 277.12 156.88 277.50C157.50 277.88 158.12 278.44 158.75 278.75C159.38 279.06 160.00 279.23 160.62 279.38C161.25 279.52 161.88 279.54 162.50 279.62C163.12 279.71 163.75 279.92 164.38 279.88C165.00 279.83 165.62 279.42 166.25 279.38C166.88 279.33 167.50 279.44 168.12 279.62C168.75 279.81 169.44 280.08 170.00 280.50C170.56 280.92 170.98 281.44 171.50 282.12C172.02 282.81 172.54 283.73 173.12 284.62C173.71 285.52 174.44 286.56 175.00 287.50C175.56 288.44 176.04 289.27 176.50 290.25C176.96 291.23 177.33 292.44 177.75 293.38C178.17 294.31 178.58 295.10 179.00 295.88C179.42 296.65 179.77 297.31 180.25 298.00C180.73 298.69 181.29 299.04 181.88 300.00C182.46 300.96 183.12 303.23 183.75 303.75C184.38 304.27 185.10 303.44 185.62 303.12C186.15 302.81 186.35 301.56 186.88 301.88C187.40 302.19 188.12 303.75 188.75 305.00C189.38 306.25 190.00 308.02 190.62 309.38C191.25 310.73 191.88 312.08 192.50 313.12C193.12 314.17 193.75 315.00 194.38 315.62C195.00 316.25 195.73 316.15 196.25 316.88C196.77 317.60 197.12 318.23 197.50 320.00C197.88 321.77 198.12 324.58 198.50 327.50C198.88 330.42 199.40 334.79 199.75 337.50C200.10 340.21 200.33 342.12 200.62 343.75C200.92 345.38 201.15 347.35 201.50 347.25C201.85 347.15 202.27 344.38 202.75 343.12C203.23 341.88 203.83 340.52 204.38 339.75C204.92 338.98 205.48 338.35 206.00 338.50C206.52 338.65 207.00 339.33 207.50 340.62C208.00 341.92 208.58 344.90 209.00 346.25C209.42 347.60 209.67 349.38 210.00 348.75C210.33 348.12 210.62 345.21 211.00 342.50C211.38 339.79 211.79 335.62 212.25 332.50C212.71 329.38 213.25 326.46 213.75 323.75C214.25 321.04 214.79 318.44 215.25 316.25C215.71 314.06 216.08 311.77 216.50 310.62C216.92 309.48 217.17 309.27 217.75 309.38C218.33 309.48 219.31 311.35 220.00 311.25C220.69 311.15 221.31 309.42 221.88 308.75C222.44 308.08 222.85 307.15 223.38 307.25C223.90 307.35 224.42 308.67 225.00 309.38C225.58 310.08 226.35 311.02 226.88 311.50C227.40 311.98 227.65 312.81 228.12 312.25C228.60 311.69 229.27 309.75 229.75 308.12C230.23 306.50 230.58 304.69 231.00 302.50C231.42 300.31 231.85 297.81 232.25 295.00C232.65 292.19 232.96 287.60 233.38 285.62C233.79 283.65 234.31 283.33 234.75 283.12C235.19 282.92 235.62 283.81 236.00 284.38C236.38 284.94 236.54 286.40 237.00 286.50C237.46 286.60 238.25 285.38 238.75 285.00C239.25 284.62 239.48 284.46 240.00 284.25C240.52 284.04 241.29 284.42 241.88 283.75C242.46 283.08 242.98 281.29 243.50 280.25C244.02 279.21 244.54 277.88 245.00 277.50C245.46 277.12 245.83 277.44 246.25 278.00C246.67 278.56 247.08 280.54 247.50 280.88C247.92 281.21 248.33 279.69 248.75 280.00C249.17 280.31 249.58 281.56 250.00 282.75C250.42 283.94 250.88 286.71 251.25 287.12C251.62 287.54 251.94 286.81 252.25 285.25C252.56 283.69 252.77 280.15 253.12 277.75C253.48 275.35 253.96 272.33 254.38 270.88C254.79 269.42 255.21 269.00 255.62 269.00C256.04 269.00 256.46 269.73 256.88 270.88C257.29 272.02 257.71 274.52 258.12 275.88C258.54 277.23 259.02 279.31 259.38 279.00C259.73 278.69 259.94 276.29 260.25 274.00C260.56 271.71 260.88 267.44 261.25 265.25C261.62 263.06 262.08 261.71 262.50 260.88C262.92 260.04 263.33 259.94 263.75 260.25C264.17 260.56 264.62 262.02 265.00 262.75C265.38 263.48 265.62 264.73 266.00 264.62C266.38 264.52 266.83 262.33 267.25 262.12C267.67 261.92 268.04 262.75 268.50 263.38C268.96 264.00 269.54 265.67 270.00 265.88C270.46 266.08 270.83 265.35 271.25 264.62C271.67 263.90 272.08 262.27 272.50 261.50C272.92 260.73 273.33 260.00 273.75 260.00C274.17 260.00 274.54 261.00 275.00 261.50C275.46 262.00 275.98 262.79 276.50 263.00C277.02 263.21 277.58 263.04 278.12 262.75C278.67 262.46 279.27 262.19 279.75 261.25C280.23 260.31 280.54 258.02 281.00 257.12C281.46 256.23 282.00 256.29 282.50 255.88C283.00 255.46 283.48 255.04 284.00 254.62C284.52 254.21 285.08 253.58 285.62 253.38C286.17 253.17 286.73 253.52 287.25 253.38C287.77 253.23 288.25 252.29 288.75 252.50C289.25 252.71 289.79 253.75 290.25 254.62C290.71 255.50 291.02 256.92 291.50 257.75C291.98 258.58 292.58 259.38 293.12 259.62C293.67 259.88 294.23 259.67 294.75 259.25C295.27 258.83 295.75 258.00 296.25 257.12C296.75 256.25 297.23 255.04 297.75 254.00C298.27 252.96 298.79 251.67 299.38 250.88C299.96 250.08 300.69 249.35 301.25 249.25C301.81 249.15 302.23 249.46 302.75 250.25C303.27 251.04 303.83 252.54 304.38 254.00C304.92 255.46 305.48 257.75 306.00 259.00C306.52 260.25 307.04 261.50 307.50 261.50C307.96 261.50 308.33 260.15 308.75 259.00C309.17 257.85 309.54 255.98 310.00 254.62C310.46 253.27 310.98 251.92 311.50 250.88C312.02 249.83 312.58 249.10 313.12 248.38C313.67 247.65 314.27 246.98 314.75 246.50C315.23 246.02 315.54 245.40 316.00 245.50C316.46 245.60 317.00 246.33 317.50 247.12C318.00 247.92 318.42 249.27 319.00 250.25C319.58 251.23 320.42 252.69 321.00 253.00C321.58 253.31 322.00 252.79 322.50 252.12C323.00 251.46 323.48 249.83 324.00 249.00C324.52 248.17 325.04 247.29 325.62 247.12C326.21 246.96 326.88 247.58 327.50 248.00C328.12 248.42 328.75 249.42 329.38 249.62C330.00 249.83 330.62 249.40 331.25 249.25C331.88 249.10 332.54 248.75 333.12 248.75C333.71 248.75 334.23 248.58 334.75 249.25C335.27 249.92 335.69 251.23 336.25 252.75C336.81 254.27 337.50 257.02 338.12 258.38C338.75 259.73 339.48 259.62 340.00 260.88C340.52 262.12 340.79 263.90 341.25 265.88C341.71 267.85 342.23 270.56 342.75 272.75C343.27 274.94 343.83 277.23 344.38 279.00C344.92 280.77 345.52 282.96 346.00 283.38C346.48 283.79 346.79 282.02 347.25 281.50C347.71 280.98 348.25 280.56 348.75 280.25C349.25 279.94 349.73 280.46 350.25 279.62C350.77 278.79 351.33 276.50 351.88 275.25C352.42 274.00 352.98 272.96 353.50 272.12C354.02 271.29 354.44 270.81 355.00 270.25C355.56 269.69 356.25 268.96 356.88 268.75C357.50 268.54 358.19 269.38 358.75 269.00C359.31 268.62 359.73 267.12 360.25 266.50C360.77 265.88 361.29 265.56 361.88 265.25C362.46 264.94 363.12 264.79 363.75 264.62C364.38 264.46 365.04 264.25 365.62 264.25C366.21 264.25 366.73 264.88 367.25 264.62C367.77 264.38 368.33 263.79 368.75 262.75C369.17 261.71 369.44 259.25 369.75 258.38C370.06 257.50 370.33 257.29 370.62 257.50C370.92 257.71 371.15 258.92 371.50 259.62C371.85 260.33 372.27 261.44 372.75 261.75C373.23 262.06 373.83 261.65 374.38 261.50C374.92 261.35 375.48 260.77 376.00 260.88C376.52 260.98 377.00 262.12 377.50 262.12C378.00 262.12 378.54 261.15 379.00 260.88C379.46 260.60 379.77 260.29 380.25 260.50C380.73 260.71 381.33 261.58 381.88 262.12C382.42 262.67 382.98 263.75 383.50 263.75C384.02 263.75 384.50 262.46 385.00 262.12C385.50 261.79 385.98 261.96 386.50 261.75C387.02 261.54 387.58 260.92 388.12 260.88C388.67 260.83 389.23 261.56 389.75 261.50C390.27 261.44 390.79 260.19 391.25 260.50C391.71 260.81 392.04 262.83 392.50 263.38C392.96 263.92 393.48 263.75 394.00 263.75C394.52 263.75 395.08 263.17 395.62 263.38C396.17 263.58 396.77 265.31 397.25 265.00C397.73 264.69 398.04 262.71 398.50 261.50C398.96 260.29 399.50 259.10 400.00 257.75C400.50 256.40 401.08 254.88 401.50 253.38C401.92 251.88 402.02 250.77 402.50 248.75C402.98 246.73 403.75 243.75 404.38 241.25C405.00 238.75 405.69 235.94 406.25 233.75C406.81 231.56 407.23 229.69 407.75 228.12C408.27 226.56 408.79 225.35 409.38 224.38C409.96 223.40 410.62 222.88 411.25 222.25C411.88 221.62 412.50 221.21 413.12 220.62C413.75 220.04 414.38 219.33 415.00 218.75C415.62 218.17 416.35 217.38 416.88 217.12C417.40 216.88 417.65 216.88 418.12 217.25C418.60 217.62 419.19 218.60 419.75 219.38C420.31 220.15 420.94 221.25 421.50 221.88C422.06 222.50 422.58 223.06 423.12 223.12C423.67 223.19 424.19 222.73 424.75 222.25C425.31 221.77 425.94 220.94 426.50 220.25C427.06 219.56 427.58 218.73 428.12 218.12C428.67 217.52 429.19 217.00 429.75 216.62C430.31 216.25 430.94 215.98 431.50 215.88C432.06 215.77 432.58 215.73 433.12 216.00C433.67 216.27 434.19 216.83 434.75 217.50C435.31 218.17 435.94 218.96 436.50 220.00C437.06 221.04 437.58 222.50 438.12 223.75C438.67 225.00 439.23 226.15 439.75 227.50C440.27 228.85 440.75 230.21 441.25 231.88C441.75 233.54 442.23 235.52 442.75 237.50C443.27 239.48 444.04 242.67 444.38 243.75C444.71 244.83 444.44 243.02 444.75 244.00C445.06 244.98 445.75 247.54 446.25 249.62C446.75 251.71 447.23 254.31 447.75 256.50C448.27 258.69 448.83 260.77 449.38 262.75C449.92 264.73 450.48 266.81 451.00 268.38C451.52 269.94 452.00 271.08 452.50 272.12C453.00 273.17 453.48 274.31 454.00 274.62C454.52 274.94 455.04 274.42 455.62 274.00C456.21 273.58 456.88 272.75 457.50 272.12C458.12 271.50 458.75 270.46 459.38 270.25C460.00 270.04 460.62 270.56 461.25 270.88C461.88 271.19 462.60 271.40 463.12 272.12C463.65 272.85 463.96 274.42 464.38 275.25C464.79 276.08 465.15 276.88 465.62 277.12C466.10 277.38 466.73 277.17 467.25 276.75C467.77 276.33 468.25 275.71 468.75 274.62C469.25 273.54 469.73 271.60 470.25 270.25C470.77 268.90 471.33 267.54 471.88 266.50C472.42 265.46 472.98 264.83 473.50 264.00C474.02 263.17 474.44 262.38 475.00 261.50C475.56 260.62 476.25 259.06 476.88 258.75C477.50 258.44 478.12 259.27 478.75 259.62C479.38 259.98 480.04 260.15 480.62 260.88C481.21 261.60 481.73 262.75 482.25 264.00C482.77 265.25 483.25 266.81 483.75 268.38C484.25 269.94 484.79 271.50 485.25 273.38C485.71 275.25 486.12 277.44 486.50 279.62C486.88 281.81 487.17 284.56 487.50 286.50C487.83 288.44 488.12 291.04 488.50 291.25C488.88 291.46 489.29 289.17 489.75 287.75C490.21 286.33 490.75 284.00 491.25 282.75C491.75 281.50 492.23 280.56 492.75 280.25C493.27 279.94 493.90 280.56 494.38 280.88C494.85 281.19 495.15 281.77 495.62 282.12C496.10 282.48 496.73 283.31 497.25 283.00C497.77 282.69 498.25 281.23 498.75 280.25C499.25 279.27 499.73 278.27 500.25 277.12C500.77 275.98 501.33 274.52 501.88 273.38C502.42 272.23 502.94 271.08 503.50 270.25C504.06 269.42 504.69 268.90 505.25 268.38C505.81 267.85 506.29 267.40 506.88 267.12C507.46 266.85 508.12 266.90 508.75 266.75C509.38 266.60 510.00 266.60 510.62 266.25C511.25 265.90 511.88 265.21 512.50 264.62C513.12 264.04 513.75 263.38 514.38 262.75C515.00 262.12 515.62 261.33 516.25 260.88C516.88 260.42 517.50 260.06 518.12 260.00C518.75 259.94 519.38 260.15 520.00 260.50C520.62 260.85 521.29 261.23 521.88 262.12C522.46 263.02 522.98 264.42 523.50 265.88C524.02 267.33 524.54 269.42 525.00 270.88C525.46 272.33 525.79 273.94 526.25 274.62C526.71 275.31 527.23 275.42 527.75 275.00C528.27 274.58 528.83 273.75 529.38 272.12C529.92 270.50 530.48 267.85 531.00 265.25C531.52 262.65 532.04 259.25 532.50 256.50C532.96 253.75 533.38 251.50 533.75 248.75C534.12 246.00 534.44 242.71 534.75 240.00C535.06 237.29 535.33 234.90 535.62 232.50C535.92 230.10 536.23 227.29 536.50 225.62C536.77 223.96 536.92 223.06 537.25 222.50C537.58 221.94 538.08 222.15 538.50 222.25C538.92 222.35 539.33 222.56 539.75 223.12C540.17 223.69 540.58 224.58 541.00 225.62C541.42 226.67 541.88 228.02 542.25 229.38C542.62 230.73 542.92 232.08 543.25 233.75C543.58 235.42 543.85 237.67 544.25 239.38C544.65 241.08 545.12 242.60 545.62 244.00C546.12 245.40 546.69 246.40 547.25 247.75C547.81 249.10 548.44 250.56 549.00 252.12C549.56 253.69 550.15 255.35 550.62 257.12C551.10 258.90 551.46 260.88 551.88 262.75C552.29 264.62 552.71 266.88 553.12 268.38C553.54 269.88 553.96 271.65 554.38 271.75C554.79 271.85 555.21 269.35 555.62 269.00C556.04 268.65 556.40 269.00 556.88 269.62C557.35 270.25 557.98 271.77 558.50 272.75C559.02 273.73 559.54 275.50 560.00 275.50C560.46 275.50 560.79 273.94 561.25 272.75C561.71 271.56 562.23 269.42 562.75 268.38C563.27 267.33 563.79 266.85 564.38 266.50C564.96 266.15 565.62 266.08 566.25 266.25C566.88 266.42 567.50 266.83 568.12 267.50C568.75 268.17 569.38 269.33 570.00 270.25C570.62 271.17 571.25 272.33 571.88 273.00C572.50 273.67 573.12 274.08 573.75 274.25C574.38 274.42 575.00 273.94 575.62 274.00C576.25 274.06 576.88 274.21 577.50 274.62C578.12 275.04 578.75 275.67 579.38 276.50C580.00 277.33 580.62 278.58 581.25 279.62C581.88 280.67 582.50 281.92 583.12 282.75C583.75 283.58 584.38 284.21 585.00 284.62C585.62 285.04 586.25 285.19 586.88 285.25C587.50 285.31 588.12 284.79 588.75 285.00C589.38 285.21 590.00 285.73 590.62 286.50C591.25 287.27 591.88 288.48 592.50 289.62C593.12 290.77 593.75 292.33 594.38 293.38C595.00 294.42 595.52 295.25 596.25 295.88C596.98 296.50 597.92 296.77 598.75 297.12C599.58 297.48 600.42 297.79 601.25 298.00C602.08 298.21 603.02 298.52 603.75 298.38C604.48 298.23 605.00 297.65 605.62 297.12C606.25 296.60 606.88 295.98 607.50 295.25C608.12 294.52 608.75 293.54 609.38 292.75C610.00 291.96 610.62 291.08 611.25 290.50C611.88 289.92 612.50 289.54 613.12 289.25C613.75 288.96 614.38 288.79 615.00 288.75C615.62 288.71 616.25 288.71 616.88 289.00C617.50 289.29 618.12 289.77 618.75 290.50C619.38 291.23 620.00 292.48 620.62 293.38C621.25 294.27 621.88 295.10 622.50 295.88C623.12 296.65 623.79 297.38 624.38 298.00C624.96 298.62 625.62 298.77 626.00 299.62C626.38 300.48 626.21 301.81 626.62 303.12C627.04 304.44 627.88 305.94 628.50 307.50C629.12 309.06 629.79 311.04 630.38 312.50C630.96 313.96 631.48 315.42 632.00 316.25C632.52 317.08 632.94 317.40 633.50 317.50C634.06 317.60 634.79 317.40 635.38 316.88C635.96 316.35 636.48 315.52 637.00 314.38C637.52 313.23 638.00 311.56 638.50 310.00C639.00 308.44 639.42 306.92 640.00 305.00C640.58 303.08 641.58 299.92 642.00 298.50C642.42 297.08 642.10 297.15 642.50 296.50C642.90 295.85 643.85 295.25 644.38 294.62C644.90 294.00 645.21 294.10 645.62 292.75C646.04 291.40 646.46 288.69 646.88 286.50C647.29 284.31 647.71 281.25 648.12 279.62C648.54 278.00 648.96 277.10 649.38 276.75C649.79 276.40 650.21 276.71 650.62 277.50C651.04 278.29 651.46 279.38 651.88 281.50C652.29 283.62 652.85 288.25 653.12 290.25C653.40 292.25 653.29 291.71 653.50 293.50C653.71 295.29 654.08 298.29 654.38 301.00C654.67 303.71 654.94 307.25 655.25 309.75C655.56 312.25 655.92 314.65 656.25 316.00C656.58 317.35 656.94 317.88 657.25 317.88C657.56 317.88 657.83 317.35 658.12 316.00C658.42 314.65 658.79 313.62 659.00 309.75C659.21 305.88 659.10 297.46 659.38 292.75C659.65 288.04 660.21 285.15 660.62 281.50C661.04 277.85 661.46 274.21 661.88 270.88C662.29 267.54 662.77 263.48 663.12 261.50C663.48 259.52 663.69 258.79 664.00 259.00C664.31 259.21 664.67 260.77 665.00 262.75C665.33 264.73 665.67 268.17 666.00 270.88C666.33 273.58 666.65 276.81 667.00 279.00C667.35 281.19 667.73 283.48 668.12 284.00C668.52 284.52 668.96 283.38 669.38 282.12C669.79 280.88 670.21 278.23 670.62 276.50C671.04 274.77 671.52 272.69 671.88 271.75C672.23 270.81 672.44 270.50 672.75 270.88C673.06 271.25 673.38 272.23 673.75 274.00C674.12 275.77 674.58 279.00 675.00 281.50C675.42 284.00 675.83 286.81 676.25 289.00C676.67 291.19 677.08 293.27 677.50 294.62C677.92 295.98 678.29 297.12 678.75 297.12C679.21 297.12 679.73 295.46 680.25 294.62C680.77 293.79 681.40 292.65 681.88 292.12C682.35 291.60 682.71 291.29 683.12 291.50C683.54 291.71 683.90 292.65 684.38 293.38C684.85 294.10 685.48 295.25 686.00 295.88C686.52 296.50 687.00 296.77 687.50 297.12C688.00 297.48 688.58 297.98 689.00 298.00C689.42 298.02 689.58 297.50 690.00 297.25C690.42 297.00 690.98 296.71 691.50 296.50C692.02 296.29 692.58 296.56 693.12 296.00C693.67 295.44 694.23 294.12 694.75 293.12C695.27 292.12 695.75 290.94 696.25 290.00C696.75 289.06 697.29 288.08 697.75 287.50C698.21 286.92 698.58 286.29 699.00 286.50C699.42 286.71 699.77 287.96 700.25 288.75C700.73 289.54 701.33 290.58 701.88 291.25C702.42 291.92 702.98 292.38 703.50 292.75C704.02 293.12 704.50 293.02 705.00 293.50C705.50 293.98 706.04 294.75 706.50 295.62C706.96 296.50 707.33 297.81 707.75 298.75C708.17 299.69 708.52 300.67 709.00 301.25C709.48 301.83 710.08 302.29 710.62 302.25C711.17 302.21 711.73 301.27 712.25 301.00C712.77 300.73 713.25 300.54 713.75 300.62C714.25 300.71 714.79 301.23 715.25 301.50C715.71 301.77 716.02 302.40 716.50 302.25C716.98 302.10 717.54 301.21 718.12 300.62C718.71 300.04 719.44 299.48 720.00 298.75C720.56 298.02 721.04 297.29 721.50 296.25C721.96 295.21 722.27 293.96 722.75 292.50C723.23 291.04 723.83 288.96 724.38 287.50C724.92 286.04 725.48 284.90 726.00 283.75C726.52 282.60 727.00 281.67 727.50 280.62C728.00 279.58 728.54 278.44 729.00 277.50C729.46 276.56 729.88 276.46 730.25 275.00C730.62 273.54 730.92 271.04 731.25 268.75C731.58 266.46 731.94 263.54 732.25 261.25C732.56 258.96 732.77 256.67 733.12 255.00C733.48 253.33 734.10 252.29 734.38 251.25C734.65 250.21 734.54 250.42 734.75 248.75C734.96 247.08 735.33 243.65 735.62 241.25C735.92 238.85 736.19 236.25 736.50 234.38C736.81 232.50 737.17 230.98 737.50 230.00C737.83 229.02 738.17 228.50 738.50 228.50C738.83 228.50 739.17 228.92 739.50 230.00C739.83 231.08 740.17 233.12 740.50 235.00C740.83 236.88 741.17 239.27 741.50 241.25C741.83 243.23 742.12 245.31 742.50 246.88C742.88 248.44 743.33 249.48 743.75 250.62C744.17 251.77 744.62 252.71 745.00 253.75C745.38 254.79 745.69 256.04 746.00 256.88C746.31 257.71 746.58 258.75 746.88 258.75C747.17 258.75 747.44 258.12 747.75 256.88C748.06 255.62 748.38 253.23 748.75 251.25C749.12 249.27 749.58 247.29 750.00 245.00C750.42 242.71 750.83 240.10 751.25 237.50C751.67 234.90 752.12 231.98 752.50 229.38C752.88 226.77 753.17 224.06 753.50 221.88C753.83 219.69 754.17 217.81 754.50 216.25C754.83 214.69 755.17 213.23 755.50 212.50C755.83 211.77 756.21 211.56 756.50 211.88C756.79 212.19 757.00 213.23 757.25 214.38C757.50 215.52 757.71 217.60 758.00 218.75C758.29 219.90 758.62 220.67 759.00 221.25C759.38 221.83 759.83 222.00 760.25 222.25C760.67 222.50 761.08 222.29 761.50 222.75C761.92 223.21 762.33 224.10 762.75 225.00C763.17 225.90 763.67 227.33 764.00 228.12C764.33 228.92 764.62 229.48 764.75 229.75" stroke="#c00000"/>
</g>
<g style="filter:grayscale(1)">
<text transform="translate(38.60 82.00) scale(0.880 1)" text-anchor="end" fill="#222" font-size="12.50" >0</text>
<text transform="translate(38.60 117.00) scale(0.880 1)" text-anchor="end" fill="#747474" font-size="12.50" >-<tspan dx="1.1">10</tspan></text>
<text transform="translate(38.60 152.00) scale(0.880 1)" text-anchor="end" fill="#222" font-size="12.50" >-<tspan dx="1.1">20</tspan></text>
<text transform="translate(38.60 186.00) scale(0.880 1)" text-anchor="end" fill="#747474" font-size="12.50" >-<tspan dx="1.1">30</tspan></text>
<text transform="translate(38.60 221.00) scale(0.880 1)" text-anchor="end" fill="#222" font-size="12.50" >-<tspan dx="1.1">40</tspan></text>
<text transform="translate(38.60 256.00) scale(0.880 1)" text-anchor="end" fill="#747474" font-size="12.50" >-<tspan dx="1.1">50</tspan></text>
<text transform="translate(38.60 290.00) scale(0.880 1)" text-anchor="end" fill="#222" font-size="12.50" >-<tspan dx="1.1">60</tspan></text>
<text transform="translate(38.60 325.00) scale(0.880 1)" text-anchor="end" fill="#747474" font-size="12.50" >-<tspan dx="1.1">70</tspan></text>
<text transform="translate(38.60 360.00) scale(0.880 1)" text-anchor="end" fill="#222" font-size="12.50" >-<tspan dx="1.1">80</tspan></text>
<text transform="translate(38.60 394.00) scale(0.880 1)" text-anchor="end" fill="#747474" font-size="12.50" >-<tspan dx="1.1">90</tspan></text>
<text transform="translate(767.20 82.00) scale(0.880 1)" text-anchor="start" fill="#222" font-size="12.50" >100</text>
<text transform="translate(767.20 152.00) scale(0.880 1)" text-anchor="start" fill="#222" font-size="12.50" >10</text>
<text transform="translate(767.20 221.00) scale(0.880 1)" text-anchor="start" fill="#222" font-size="12.50" >1</text>
<text transform="translate(767.20 290.00) scale(0.820 1)" text-anchor="start" fill="#222" font-size="12.50" >0,1</text>
<text transform="translate(767.20 360.00) scale(0.820 1)" text-anchor="start" fill="#222" font-size="12.50" >0,01</text>
<text transform="translate(767.20 429.00) scale(0.820 1)" text-anchor="start" fill="#222" font-size="12.50" >0,001</text>
<text transform="translate(41.40 440.80) scale(0.880 1)" text-anchor="middle" fill="#222" font-size="12.50" >30</text>
<text transform="translate(73.40 440.80) scale(0.880 1)" text-anchor="middle" fill="#222" font-size="12.50" >40</text>
<text transform="translate(97.30 440.80) scale(0.880 1)" text-anchor="middle" fill="#222" font-size="12.50" >50</text>
<text transform="translate(118.40 440.80) scale(0.880 1)" text-anchor="middle" fill="#222" font-size="12.50" >60</text>
<text transform="translate(150.20 440.80) scale(0.880 1)" text-anchor="middle" fill="#222" font-size="12.50" >80</text>
<text transform="translate(175.20 440.80) scale(0.880 1)" text-anchor="middle" fill="#222" font-size="12.50" >100</text>
<text transform="translate(252.30 440.80) scale(0.880 1)" text-anchor="middle" fill="#222" font-size="12.50" >200</text>
<text transform="translate(297.05 440.80) scale(0.880 1)" text-anchor="middle" fill="#222" font-size="12.50" >300</text>
<text transform="translate(329.30 440.80) scale(0.880 1)" text-anchor="middle" fill="#222" font-size="12.50" >400</text>
<text transform="translate(375.20 440.80) scale(0.880 1)" text-anchor="middle" fill="#222" font-size="12.50" >600</text>
<text transform="translate(407.30 440.80) scale(0.880 1)" text-anchor="middle" fill="#222" font-size="12.50" >800</text>
<text transform="translate(431.40 440.80) scale(0.880 1)" text-anchor="middle" fill="#222" font-size="12.50" >1k</text>
<text transform="translate(509.20 440.80) scale(0.880 1)" text-anchor="middle" fill="#222" font-size="12.50" >2k</text>
<text transform="translate(554.20 440.80) scale(0.880 1)" text-anchor="middle" fill="#222" font-size="12.50" >3k</text>
<text transform="translate(585.80 440.80) scale(0.880 1)" text-anchor="middle" fill="#222" font-size="12.50" >4k</text>
<text transform="translate(611.10 440.80) scale(0.880 1)" text-anchor="middle" fill="#222" font-size="12.50" >5k</text>
<text transform="translate(631.40 440.80) scale(0.880 1)" text-anchor="middle" fill="#222" font-size="12.50" >6k</text>
<text transform="translate(663.20 440.80) scale(0.880 1)" text-anchor="middle" fill="#222" font-size="12.50" >8k</text>
<text transform="translate(687.90 440.80) scale(0.880 1)" text-anchor="middle" fill="#222" font-size="12.50" >10k</text>
<text transform="translate(781.00 440.80) scale(0.880 1)" text-anchor="end" fill="#222" font-size="12.50" >20kHz</text>
<text transform="translate(20.60 54.00) scale(0.910 1)" text-anchor="start" fill="#222" font-size="12.30" stroke="#222" stroke-width="0.45">dBr</text>
<text transform="translate(766.80 54.00) scale(0.930 1)" text-anchor="start" fill="#222" font-size="12.30" stroke="#222" stroke-width="0.25">%</text>
<text x="206.00" y="30.30" font-size="21.60" fill="#111" textLength="147.00" lengthAdjust="spacingAndGlyphs" >32W/8878T11</text>
<text x="361.00" y="30.30" font-size="21.60" fill="#111" textLength="101.00" lengthAdjust="spacingAndGlyphs" >distortion</text>
<text x="473.00" y="30.30" font-size="20.00" fill="#111" textLength="43.50" lengthAdjust="spacingAndGlyphs" >5.6V</text>
<text x="537.50" y="30.30" font-size="21.60" fill="#111" textLength="56.00" lengthAdjust="spacingAndGlyphs" >10cm</text>
<text x="344.5" y="84.6" font-size="23.2" font-weight="bold" fill="#404040" stroke="#fff" stroke-width="2.6" stroke-linejoin="round" paint-order="stroke" textLength="116.5" lengthAdjust="spacingAndGlyphs">Distortion</text>
</g>
</svg>
</body></html>
